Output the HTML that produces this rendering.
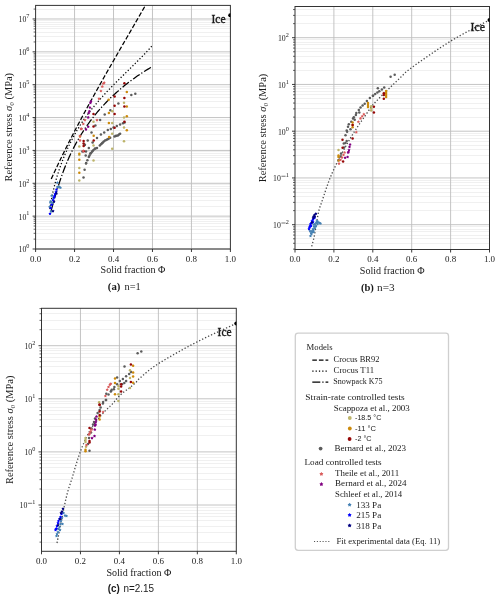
<!DOCTYPE html>
<html><head><meta charset="utf-8"><style>
html,body{margin:0;padding:0;background:#fff;}
svg{display:block;will-change:transform;}
</style></head><body>
<svg width="500" height="598" viewBox="0 0 500 598">
<defs><clipPath id="ca"><rect x="35.6" y="5.4" width="194.80" height="243.60"/></clipPath><clipPath id="cb"><rect x="295.0" y="6.5" width="194.50" height="243.00"/></clipPath><clipPath id="cc"><rect x="41.5" y="308.3" width="194.80" height="243.00"/></clipPath></defs>
<rect x="0" y="0" width="500" height="598" fill="#ffffff"/>
<line x1="35.6" x2="230.4" y1="239.50" y2="239.50" stroke="#f0f0f0" stroke-width="1"/>
<line x1="35.6" x2="230.4" y1="233.50" y2="233.50" stroke="#f0f0f0" stroke-width="1"/>
<line x1="35.6" x2="230.4" y1="229.50" y2="229.50" stroke="#f0f0f0" stroke-width="1"/>
<line x1="35.6" x2="230.4" y1="226.50" y2="226.50" stroke="#f0f0f0" stroke-width="1"/>
<line x1="35.6" x2="230.4" y1="223.50" y2="223.50" stroke="#f0f0f0" stroke-width="1"/>
<line x1="35.6" x2="230.4" y1="221.50" y2="221.50" stroke="#f0f0f0" stroke-width="1"/>
<line x1="35.6" x2="230.4" y1="219.50" y2="219.50" stroke="#f0f0f0" stroke-width="1"/>
<line x1="35.6" x2="230.4" y1="217.50" y2="217.50" stroke="#f0f0f0" stroke-width="1"/>
<line x1="35.6" x2="230.4" y1="206.50" y2="206.50" stroke="#f0f0f0" stroke-width="1"/>
<line x1="35.6" x2="230.4" y1="200.50" y2="200.50" stroke="#f0f0f0" stroke-width="1"/>
<line x1="35.6" x2="230.4" y1="196.50" y2="196.50" stroke="#f0f0f0" stroke-width="1"/>
<line x1="35.6" x2="230.4" y1="193.50" y2="193.50" stroke="#f0f0f0" stroke-width="1"/>
<line x1="35.6" x2="230.4" y1="190.50" y2="190.50" stroke="#f0f0f0" stroke-width="1"/>
<line x1="35.6" x2="230.4" y1="188.50" y2="188.50" stroke="#f0f0f0" stroke-width="1"/>
<line x1="35.6" x2="230.4" y1="186.50" y2="186.50" stroke="#f0f0f0" stroke-width="1"/>
<line x1="35.6" x2="230.4" y1="184.50" y2="184.50" stroke="#f0f0f0" stroke-width="1"/>
<line x1="35.6" x2="230.4" y1="173.50" y2="173.50" stroke="#f0f0f0" stroke-width="1"/>
<line x1="35.6" x2="230.4" y1="167.50" y2="167.50" stroke="#f0f0f0" stroke-width="1"/>
<line x1="35.6" x2="230.4" y1="163.50" y2="163.50" stroke="#f0f0f0" stroke-width="1"/>
<line x1="35.6" x2="230.4" y1="160.50" y2="160.50" stroke="#f0f0f0" stroke-width="1"/>
<line x1="35.6" x2="230.4" y1="157.50" y2="157.50" stroke="#f0f0f0" stroke-width="1"/>
<line x1="35.6" x2="230.4" y1="155.50" y2="155.50" stroke="#f0f0f0" stroke-width="1"/>
<line x1="35.6" x2="230.4" y1="153.50" y2="153.50" stroke="#f0f0f0" stroke-width="1"/>
<line x1="35.6" x2="230.4" y1="151.50" y2="151.50" stroke="#f0f0f0" stroke-width="1"/>
<line x1="35.6" x2="230.4" y1="140.50" y2="140.50" stroke="#f0f0f0" stroke-width="1"/>
<line x1="35.6" x2="230.4" y1="134.50" y2="134.50" stroke="#f0f0f0" stroke-width="1"/>
<line x1="35.6" x2="230.4" y1="130.50" y2="130.50" stroke="#f0f0f0" stroke-width="1"/>
<line x1="35.6" x2="230.4" y1="127.50" y2="127.50" stroke="#f0f0f0" stroke-width="1"/>
<line x1="35.6" x2="230.4" y1="124.50" y2="124.50" stroke="#f0f0f0" stroke-width="1"/>
<line x1="35.6" x2="230.4" y1="122.50" y2="122.50" stroke="#f0f0f0" stroke-width="1"/>
<line x1="35.6" x2="230.4" y1="120.50" y2="120.50" stroke="#f0f0f0" stroke-width="1"/>
<line x1="35.6" x2="230.4" y1="119.50" y2="119.50" stroke="#f0f0f0" stroke-width="1"/>
<line x1="35.6" x2="230.4" y1="107.50" y2="107.50" stroke="#f0f0f0" stroke-width="1"/>
<line x1="35.6" x2="230.4" y1="101.50" y2="101.50" stroke="#f0f0f0" stroke-width="1"/>
<line x1="35.6" x2="230.4" y1="97.50" y2="97.50" stroke="#f0f0f0" stroke-width="1"/>
<line x1="35.6" x2="230.4" y1="94.50" y2="94.50" stroke="#f0f0f0" stroke-width="1"/>
<line x1="35.6" x2="230.4" y1="91.50" y2="91.50" stroke="#f0f0f0" stroke-width="1"/>
<line x1="35.6" x2="230.4" y1="89.50" y2="89.50" stroke="#f0f0f0" stroke-width="1"/>
<line x1="35.6" x2="230.4" y1="87.50" y2="87.50" stroke="#f0f0f0" stroke-width="1"/>
<line x1="35.6" x2="230.4" y1="86.50" y2="86.50" stroke="#f0f0f0" stroke-width="1"/>
<line x1="35.6" x2="230.4" y1="74.50" y2="74.50" stroke="#f0f0f0" stroke-width="1"/>
<line x1="35.6" x2="230.4" y1="69.50" y2="69.50" stroke="#f0f0f0" stroke-width="1"/>
<line x1="35.6" x2="230.4" y1="64.50" y2="64.50" stroke="#f0f0f0" stroke-width="1"/>
<line x1="35.6" x2="230.4" y1="61.50" y2="61.50" stroke="#f0f0f0" stroke-width="1"/>
<line x1="35.6" x2="230.4" y1="59.50" y2="59.50" stroke="#f0f0f0" stroke-width="1"/>
<line x1="35.6" x2="230.4" y1="56.50" y2="56.50" stroke="#f0f0f0" stroke-width="1"/>
<line x1="35.6" x2="230.4" y1="55.50" y2="55.50" stroke="#f0f0f0" stroke-width="1"/>
<line x1="35.6" x2="230.4" y1="53.50" y2="53.50" stroke="#f0f0f0" stroke-width="1"/>
<line x1="35.6" x2="230.4" y1="41.50" y2="41.50" stroke="#f0f0f0" stroke-width="1"/>
<line x1="35.6" x2="230.4" y1="36.50" y2="36.50" stroke="#f0f0f0" stroke-width="1"/>
<line x1="35.6" x2="230.4" y1="32.50" y2="32.50" stroke="#f0f0f0" stroke-width="1"/>
<line x1="35.6" x2="230.4" y1="28.50" y2="28.50" stroke="#f0f0f0" stroke-width="1"/>
<line x1="35.6" x2="230.4" y1="26.50" y2="26.50" stroke="#f0f0f0" stroke-width="1"/>
<line x1="35.6" x2="230.4" y1="24.50" y2="24.50" stroke="#f0f0f0" stroke-width="1"/>
<line x1="35.6" x2="230.4" y1="22.50" y2="22.50" stroke="#f0f0f0" stroke-width="1"/>
<line x1="35.6" x2="230.4" y1="20.50" y2="20.50" stroke="#f0f0f0" stroke-width="1"/>
<line x1="35.6" x2="230.4" y1="9.50" y2="9.50" stroke="#f0f0f0" stroke-width="1"/>
<line x1="35.6" x2="230.4" y1="249.00" y2="249.00" stroke="#bdbdbd" stroke-width="0.9"/>
<line x1="35.6" x2="230.4" y1="216.14" y2="216.14" stroke="#bdbdbd" stroke-width="0.9"/>
<line x1="35.6" x2="230.4" y1="183.28" y2="183.28" stroke="#bdbdbd" stroke-width="0.9"/>
<line x1="35.6" x2="230.4" y1="150.42" y2="150.42" stroke="#bdbdbd" stroke-width="0.9"/>
<line x1="35.6" x2="230.4" y1="117.56" y2="117.56" stroke="#bdbdbd" stroke-width="0.9"/>
<line x1="35.6" x2="230.4" y1="84.70" y2="84.70" stroke="#bdbdbd" stroke-width="0.9"/>
<line x1="35.6" x2="230.4" y1="51.84" y2="51.84" stroke="#bdbdbd" stroke-width="0.9"/>
<line x1="35.6" x2="230.4" y1="18.98" y2="18.98" stroke="#bdbdbd" stroke-width="0.9"/>
<line x1="74.56" x2="74.56" y1="5.4" y2="249.0" stroke="#bdbdbd" stroke-width="0.9"/>
<line x1="113.52" x2="113.52" y1="5.4" y2="249.0" stroke="#bdbdbd" stroke-width="0.9"/>
<line x1="152.48" x2="152.48" y1="5.4" y2="249.0" stroke="#bdbdbd" stroke-width="0.9"/>
<line x1="191.44" x2="191.44" y1="5.4" y2="249.0" stroke="#bdbdbd" stroke-width="0.9"/>
<line x1="295.0" x2="489.5" y1="243.50" y2="243.50" stroke="#f0f0f0" stroke-width="1"/>
<line x1="295.0" x2="489.5" y1="238.50" y2="238.50" stroke="#f0f0f0" stroke-width="1"/>
<line x1="295.0" x2="489.5" y1="235.50" y2="235.50" stroke="#f0f0f0" stroke-width="1"/>
<line x1="295.0" x2="489.5" y1="231.50" y2="231.50" stroke="#f0f0f0" stroke-width="1"/>
<line x1="295.0" x2="489.5" y1="229.50" y2="229.50" stroke="#f0f0f0" stroke-width="1"/>
<line x1="295.0" x2="489.5" y1="226.50" y2="226.50" stroke="#f0f0f0" stroke-width="1"/>
<line x1="295.0" x2="489.5" y1="210.50" y2="210.50" stroke="#f0f0f0" stroke-width="1"/>
<line x1="295.0" x2="489.5" y1="202.50" y2="202.50" stroke="#f0f0f0" stroke-width="1"/>
<line x1="295.0" x2="489.5" y1="196.50" y2="196.50" stroke="#f0f0f0" stroke-width="1"/>
<line x1="295.0" x2="489.5" y1="192.50" y2="192.50" stroke="#f0f0f0" stroke-width="1"/>
<line x1="295.0" x2="489.5" y1="188.50" y2="188.50" stroke="#f0f0f0" stroke-width="1"/>
<line x1="295.0" x2="489.5" y1="185.50" y2="185.50" stroke="#f0f0f0" stroke-width="1"/>
<line x1="295.0" x2="489.5" y1="182.50" y2="182.50" stroke="#f0f0f0" stroke-width="1"/>
<line x1="295.0" x2="489.5" y1="180.50" y2="180.50" stroke="#f0f0f0" stroke-width="1"/>
<line x1="295.0" x2="489.5" y1="163.50" y2="163.50" stroke="#f0f0f0" stroke-width="1"/>
<line x1="295.0" x2="489.5" y1="155.50" y2="155.50" stroke="#f0f0f0" stroke-width="1"/>
<line x1="295.0" x2="489.5" y1="149.50" y2="149.50" stroke="#f0f0f0" stroke-width="1"/>
<line x1="295.0" x2="489.5" y1="145.50" y2="145.50" stroke="#f0f0f0" stroke-width="1"/>
<line x1="295.0" x2="489.5" y1="141.50" y2="141.50" stroke="#f0f0f0" stroke-width="1"/>
<line x1="295.0" x2="489.5" y1="138.50" y2="138.50" stroke="#f0f0f0" stroke-width="1"/>
<line x1="295.0" x2="489.5" y1="135.50" y2="135.50" stroke="#f0f0f0" stroke-width="1"/>
<line x1="295.0" x2="489.5" y1="133.50" y2="133.50" stroke="#f0f0f0" stroke-width="1"/>
<line x1="295.0" x2="489.5" y1="117.50" y2="117.50" stroke="#f0f0f0" stroke-width="1"/>
<line x1="295.0" x2="489.5" y1="108.50" y2="108.50" stroke="#f0f0f0" stroke-width="1"/>
<line x1="295.0" x2="489.5" y1="103.50" y2="103.50" stroke="#f0f0f0" stroke-width="1"/>
<line x1="295.0" x2="489.5" y1="98.50" y2="98.50" stroke="#f0f0f0" stroke-width="1"/>
<line x1="295.0" x2="489.5" y1="94.50" y2="94.50" stroke="#f0f0f0" stroke-width="1"/>
<line x1="295.0" x2="489.5" y1="91.50" y2="91.50" stroke="#f0f0f0" stroke-width="1"/>
<line x1="295.0" x2="489.5" y1="88.50" y2="88.50" stroke="#f0f0f0" stroke-width="1"/>
<line x1="295.0" x2="489.5" y1="86.50" y2="86.50" stroke="#f0f0f0" stroke-width="1"/>
<line x1="295.0" x2="489.5" y1="70.50" y2="70.50" stroke="#f0f0f0" stroke-width="1"/>
<line x1="295.0" x2="489.5" y1="62.50" y2="62.50" stroke="#f0f0f0" stroke-width="1"/>
<line x1="295.0" x2="489.5" y1="56.50" y2="56.50" stroke="#f0f0f0" stroke-width="1"/>
<line x1="295.0" x2="489.5" y1="51.50" y2="51.50" stroke="#f0f0f0" stroke-width="1"/>
<line x1="295.0" x2="489.5" y1="48.50" y2="48.50" stroke="#f0f0f0" stroke-width="1"/>
<line x1="295.0" x2="489.5" y1="44.50" y2="44.50" stroke="#f0f0f0" stroke-width="1"/>
<line x1="295.0" x2="489.5" y1="42.50" y2="42.50" stroke="#f0f0f0" stroke-width="1"/>
<line x1="295.0" x2="489.5" y1="39.50" y2="39.50" stroke="#f0f0f0" stroke-width="1"/>
<line x1="295.0" x2="489.5" y1="23.50" y2="23.50" stroke="#f0f0f0" stroke-width="1"/>
<line x1="295.0" x2="489.5" y1="15.50" y2="15.50" stroke="#f0f0f0" stroke-width="1"/>
<line x1="295.0" x2="489.5" y1="9.50" y2="9.50" stroke="#f0f0f0" stroke-width="1"/>
<line x1="295.0" x2="489.5" y1="224.70" y2="224.70" stroke="#bdbdbd" stroke-width="0.9"/>
<line x1="295.0" x2="489.5" y1="177.95" y2="177.95" stroke="#bdbdbd" stroke-width="0.9"/>
<line x1="295.0" x2="489.5" y1="131.20" y2="131.20" stroke="#bdbdbd" stroke-width="0.9"/>
<line x1="295.0" x2="489.5" y1="84.45" y2="84.45" stroke="#bdbdbd" stroke-width="0.9"/>
<line x1="295.0" x2="489.5" y1="37.70" y2="37.70" stroke="#bdbdbd" stroke-width="0.9"/>
<line x1="333.90" x2="333.90" y1="6.5" y2="249.5" stroke="#bdbdbd" stroke-width="0.9"/>
<line x1="372.80" x2="372.80" y1="6.5" y2="249.5" stroke="#bdbdbd" stroke-width="0.9"/>
<line x1="411.70" x2="411.70" y1="6.5" y2="249.5" stroke="#bdbdbd" stroke-width="0.9"/>
<line x1="450.60" x2="450.60" y1="6.5" y2="249.5" stroke="#bdbdbd" stroke-width="0.9"/>
<line x1="41.5" x2="236.3" y1="542.50" y2="542.50" stroke="#f0f0f0" stroke-width="1"/>
<line x1="41.5" x2="236.3" y1="532.50" y2="532.50" stroke="#f0f0f0" stroke-width="1"/>
<line x1="41.5" x2="236.3" y1="526.50" y2="526.50" stroke="#f0f0f0" stroke-width="1"/>
<line x1="41.5" x2="236.3" y1="520.50" y2="520.50" stroke="#f0f0f0" stroke-width="1"/>
<line x1="41.5" x2="236.3" y1="516.50" y2="516.50" stroke="#f0f0f0" stroke-width="1"/>
<line x1="41.5" x2="236.3" y1="513.50" y2="513.50" stroke="#f0f0f0" stroke-width="1"/>
<line x1="41.5" x2="236.3" y1="510.50" y2="510.50" stroke="#f0f0f0" stroke-width="1"/>
<line x1="41.5" x2="236.3" y1="507.50" y2="507.50" stroke="#f0f0f0" stroke-width="1"/>
<line x1="41.5" x2="236.3" y1="489.50" y2="489.50" stroke="#f0f0f0" stroke-width="1"/>
<line x1="41.5" x2="236.3" y1="479.50" y2="479.50" stroke="#f0f0f0" stroke-width="1"/>
<line x1="41.5" x2="236.3" y1="473.50" y2="473.50" stroke="#f0f0f0" stroke-width="1"/>
<line x1="41.5" x2="236.3" y1="467.50" y2="467.50" stroke="#f0f0f0" stroke-width="1"/>
<line x1="41.5" x2="236.3" y1="463.50" y2="463.50" stroke="#f0f0f0" stroke-width="1"/>
<line x1="41.5" x2="236.3" y1="460.50" y2="460.50" stroke="#f0f0f0" stroke-width="1"/>
<line x1="41.5" x2="236.3" y1="457.50" y2="457.50" stroke="#f0f0f0" stroke-width="1"/>
<line x1="41.5" x2="236.3" y1="454.50" y2="454.50" stroke="#f0f0f0" stroke-width="1"/>
<line x1="41.5" x2="236.3" y1="435.50" y2="435.50" stroke="#f0f0f0" stroke-width="1"/>
<line x1="41.5" x2="236.3" y1="426.50" y2="426.50" stroke="#f0f0f0" stroke-width="1"/>
<line x1="41.5" x2="236.3" y1="419.50" y2="419.50" stroke="#f0f0f0" stroke-width="1"/>
<line x1="41.5" x2="236.3" y1="414.50" y2="414.50" stroke="#f0f0f0" stroke-width="1"/>
<line x1="41.5" x2="236.3" y1="410.50" y2="410.50" stroke="#f0f0f0" stroke-width="1"/>
<line x1="41.5" x2="236.3" y1="407.50" y2="407.50" stroke="#f0f0f0" stroke-width="1"/>
<line x1="41.5" x2="236.3" y1="403.50" y2="403.50" stroke="#f0f0f0" stroke-width="1"/>
<line x1="41.5" x2="236.3" y1="401.50" y2="401.50" stroke="#f0f0f0" stroke-width="1"/>
<line x1="41.5" x2="236.3" y1="382.50" y2="382.50" stroke="#f0f0f0" stroke-width="1"/>
<line x1="41.5" x2="236.3" y1="373.50" y2="373.50" stroke="#f0f0f0" stroke-width="1"/>
<line x1="41.5" x2="236.3" y1="366.50" y2="366.50" stroke="#f0f0f0" stroke-width="1"/>
<line x1="41.5" x2="236.3" y1="361.50" y2="361.50" stroke="#f0f0f0" stroke-width="1"/>
<line x1="41.5" x2="236.3" y1="357.50" y2="357.50" stroke="#f0f0f0" stroke-width="1"/>
<line x1="41.5" x2="236.3" y1="353.50" y2="353.50" stroke="#f0f0f0" stroke-width="1"/>
<line x1="41.5" x2="236.3" y1="350.50" y2="350.50" stroke="#f0f0f0" stroke-width="1"/>
<line x1="41.5" x2="236.3" y1="348.50" y2="348.50" stroke="#f0f0f0" stroke-width="1"/>
<line x1="41.5" x2="236.3" y1="329.50" y2="329.50" stroke="#f0f0f0" stroke-width="1"/>
<line x1="41.5" x2="236.3" y1="320.50" y2="320.50" stroke="#f0f0f0" stroke-width="1"/>
<line x1="41.5" x2="236.3" y1="313.50" y2="313.50" stroke="#f0f0f0" stroke-width="1"/>
<line x1="41.5" x2="236.3" y1="505.00" y2="505.00" stroke="#bdbdbd" stroke-width="0.9"/>
<line x1="41.5" x2="236.3" y1="451.90" y2="451.90" stroke="#bdbdbd" stroke-width="0.9"/>
<line x1="41.5" x2="236.3" y1="398.80" y2="398.80" stroke="#bdbdbd" stroke-width="0.9"/>
<line x1="41.5" x2="236.3" y1="345.70" y2="345.70" stroke="#bdbdbd" stroke-width="0.9"/>
<line x1="80.46" x2="80.46" y1="308.3" y2="551.3" stroke="#bdbdbd" stroke-width="0.9"/>
<line x1="119.42" x2="119.42" y1="308.3" y2="551.3" stroke="#bdbdbd" stroke-width="0.9"/>
<line x1="158.38" x2="158.38" y1="308.3" y2="551.3" stroke="#bdbdbd" stroke-width="0.9"/>
<line x1="197.34" x2="197.34" y1="308.3" y2="551.3" stroke="#bdbdbd" stroke-width="0.9"/>
<g clip-path="url(#ca)" fill="none" stroke="#000" stroke-width="1.25">
<path d="M51.24,179.00 L51.75,177.88 L52.26,176.76 L52.78,175.64 L53.29,174.52 L53.81,173.40 L54.33,172.28 L54.85,171.16 L55.37,170.04 L55.89,168.92 L56.42,167.79 L56.95,166.67 L57.48,165.55 L58.01,164.43 L58.55,163.31 L59.08,162.19 L59.62,161.07 L60.16,159.95 L60.70,158.83 L61.24,157.71 L61.79,156.59 L62.34,155.47 L62.89,154.35 L63.44,153.23 L63.99,152.11 L64.54,150.99 L65.10,149.87 L65.66,148.75 L66.22,147.63 L66.78,146.51 L67.34,145.38 L67.90,144.26 L68.47,143.14 L69.04,142.02 L69.61,140.90 L70.18,139.78 L70.75,138.66 L71.33,137.54 L71.90,136.42 L72.48,135.30 L73.06,134.18 L73.64,133.06 L74.22,131.94 L74.80,130.82 L75.38,129.70 L75.97,128.58 L76.56,127.46 L77.15,126.34 L77.74,125.22 L78.33,124.10 L78.92,122.97 L79.52,121.85 L80.11,120.73 L80.71,119.61 L81.30,118.49 L81.90,117.37 L82.50,116.25 L83.10,115.13 L83.71,114.01 L84.31,112.89 L84.92,111.77 L85.53,110.65 L86.13,109.53 L86.74,108.41 L87.35,107.29 L87.96,106.17 L88.57,105.05 L89.19,103.93 L89.80,102.81 L90.42,101.69 L91.03,100.56 L91.65,99.44 L92.27,98.32 L92.89,97.20 L93.51,96.08 L94.13,94.96 L94.75,93.84 L95.37,92.72 L96.00,91.60 L96.62,90.48 L97.25,89.36 L97.88,88.24 L98.50,87.12 L99.13,86.00 L99.76,84.88 L100.39,83.76 L101.02,82.63 L101.65,81.51 L102.28,80.39 L102.91,79.27 L103.55,78.15 L104.18,77.03 L104.82,75.91 L105.46,74.79 L106.09,73.67 L106.73,72.55 L107.37,71.43 L108.01,70.31 L108.64,69.19 L109.28,68.07 L109.92,66.95 L110.56,65.83 L111.20,64.71 L111.85,63.59 L112.49,62.47 L113.13,61.35 L113.77,60.22 L114.42,59.10 L115.06,57.98 L115.70,56.86 L116.35,55.74 L116.99,54.62 L117.64,53.50 L118.28,52.38 L118.93,51.26 L119.57,50.14 L120.22,49.02 L120.87,47.90 L121.51,46.78 L122.16,45.66 L122.81,44.54 L123.46,43.42 L124.11,42.30 L124.75,41.18 L125.40,40.06 L126.05,38.94 L126.69,37.81 L127.34,36.69 L127.99,35.57 L128.64,34.45 L129.29,33.33 L129.94,32.21 L130.59,31.09 L131.24,29.97 L131.89,28.85 L132.53,27.73 L133.18,26.61 L133.83,25.49 L134.48,24.37 L135.13,23.25 L135.78,22.13 L136.43,21.01 L137.08,19.89 L137.72,18.77 L138.37,17.65 L139.02,16.53 L139.67,15.40 L140.31,14.28 L140.96,13.16 L141.61,12.04 L142.25,10.92 L142.90,9.80 L143.55,8.68 L144.20,7.56 L144.84,6.44 L145.49,5.32 L146.14,4.20" stroke-dasharray="4.6 2.0"/>
<path d="M49.90,209.00 L50.06,207.95 L50.21,206.91 L50.37,205.86 L50.54,204.81 L50.71,203.76 L50.89,202.72 L51.07,201.67 L51.26,200.62 L51.45,199.57 L51.65,198.53 L51.85,197.48 L52.06,196.43 L52.27,195.38 L52.49,194.34 L52.71,193.29 L52.94,192.24 L53.17,191.19 L53.41,190.15 L53.66,189.10 L53.91,188.05 L54.16,187.00 L54.42,185.96 L54.69,184.91 L54.96,183.86 L55.24,182.81 L55.52,181.77 L55.81,180.72 L56.11,179.67 L56.41,178.62 L56.71,177.57 L57.02,176.53 L57.34,175.48 L57.66,174.43 L57.99,173.38 L58.33,172.34 L58.67,171.29 L59.02,170.24 L59.37,169.19 L59.73,168.15 L60.09,167.10 L60.46,166.05 L60.84,165.00 L61.22,163.96 L61.61,162.91 L62.01,161.86 L62.41,160.81 L62.82,159.77 L63.23,158.72 L63.65,157.67 L64.08,156.62 L64.51,155.58 L64.95,154.53 L65.40,153.48 L65.85,152.44 L66.30,151.39 L66.77,150.34 L67.24,149.29 L67.72,148.25 L68.21,147.20 L68.70,146.15 L69.20,145.10 L69.71,144.06 L70.22,143.01 L70.74,141.96 L71.27,140.91 L71.80,139.87 L72.34,138.82 L72.89,137.77 L73.45,136.72 L74.01,135.68 L74.59,134.63 L75.17,133.58 L75.76,132.53 L76.37,131.48 L76.98,130.44 L77.60,129.39 L78.23,128.34 L78.87,127.30 L79.52,126.26 L80.18,125.21 L80.85,124.16 L81.53,123.12 L82.23,122.07 L82.93,121.02 L83.65,119.97 L84.38,118.92 L85.12,117.88 L85.87,116.83 L86.63,115.78 L87.41,114.73 L88.19,113.69 L88.99,112.64 L89.80,111.59 L90.61,110.54 L91.44,109.50 L92.28,108.45 L93.13,107.40 L93.99,106.36 L94.85,105.31 L95.73,104.26 L96.62,103.21 L97.52,102.16 L98.42,101.12 L99.34,100.07 L100.26,99.02 L101.20,97.97 L102.14,96.93 L103.09,95.88 L104.05,94.83 L105.01,93.78 L105.98,92.74 L106.96,91.69 L107.95,90.64 L108.94,89.59 L109.95,88.55 L110.96,87.50 L111.98,86.45 L113.01,85.41 L114.04,84.36 L115.08,83.31 L116.12,82.26 L117.17,81.22 L118.22,80.17 L119.28,79.12 L120.34,78.07 L121.40,77.03 L122.47,75.98 L123.54,74.93 L124.61,73.88 L125.68,72.84 L126.76,71.79 L127.83,70.74 L128.90,69.69 L129.97,68.64 L131.04,67.60 L132.11,66.55 L133.17,65.50 L134.24,64.45 L135.30,63.41 L136.35,62.36 L137.40,61.31 L138.45,60.27 L139.49,59.22 L140.52,58.17 L141.55,57.12 L142.57,56.07 L143.58,55.03 L144.59,53.98 L145.59,52.93 L146.57,51.88 L147.55,50.84 L148.52,49.79 L149.47,48.74 L150.41,47.70 L151.34,46.65 L152.28,45.60" stroke-dasharray="1.25 2.06"/>
<path d="M51.06,211.00 L51.31,210.08 L51.56,209.15 L51.82,208.23 L52.07,207.30 L52.33,206.37 L52.58,205.45 L52.84,204.52 L53.10,203.59 L53.36,202.66 L53.62,201.74 L53.89,200.81 L54.15,199.89 L54.42,198.96 L54.68,198.04 L54.95,197.11 L55.22,196.19 L55.49,195.27 L55.76,194.34 L56.03,193.42 L56.31,192.49 L56.59,191.56 L56.87,190.64 L57.15,189.71 L57.44,188.78 L57.73,187.85 L58.02,186.93 L58.31,186.00 L58.60,185.08 L58.90,184.16 L59.20,183.23 L59.50,182.30 L59.81,181.38 L60.12,180.46 L60.43,179.53 L60.74,178.61 L61.06,177.68 L61.38,176.75 L61.71,175.82 L62.04,174.90 L62.37,173.97 L62.71,173.04 L63.05,172.12 L63.40,171.19 L63.75,170.27 L64.10,169.34 L64.46,168.42 L64.82,167.49 L65.18,166.57 L65.55,165.65 L65.93,164.72 L66.31,163.80 L66.69,162.87 L67.08,161.94 L67.47,161.02 L67.87,160.09 L68.27,159.16 L68.68,158.23 L69.09,157.31 L69.51,156.38 L69.94,155.46 L70.37,154.53 L70.80,153.61 L71.24,152.68 L71.69,151.76 L72.14,150.84 L72.60,149.91 L73.06,148.99 L73.53,148.06 L74.01,147.13 L74.49,146.21 L74.97,145.28 L75.47,144.35 L75.97,143.42 L76.48,142.50 L77.00,141.57 L77.52,140.65 L78.05,139.72 L78.58,138.80 L79.12,137.87 L79.67,136.95 L80.23,136.03 L80.79,135.10 L81.36,134.18 L81.94,133.25 L82.53,132.32 L83.12,131.40 L83.72,130.47 L84.33,129.54 L84.95,128.61 L85.57,127.69 L86.20,126.76 L86.84,125.84 L87.49,124.92 L88.14,123.99 L88.81,123.06 L89.48,122.14 L90.16,121.22 L90.86,120.29 L91.56,119.37 L92.27,118.44 L92.99,117.51 L93.71,116.58 L94.45,115.66 L95.19,114.73 L95.94,113.80 L96.71,112.88 L97.48,111.95 L98.27,111.03 L99.07,110.11 L99.87,109.18 L100.69,108.26 L101.52,107.33 L102.36,106.41 L103.21,105.48 L104.08,104.56 L104.95,103.63 L105.83,102.70 L106.73,101.78 L107.64,100.85 L108.56,99.92 L109.50,98.99 L110.44,98.07 L111.41,97.14 L112.38,96.22 L113.37,95.30 L114.37,94.37 L115.38,93.44 L116.41,92.52 L117.45,91.60 L118.51,90.67 L119.58,89.75 L120.66,88.82 L121.76,87.89 L122.87,86.97 L124.00,86.04 L125.15,85.11 L126.32,84.18 L127.50,83.26 L128.70,82.33 L129.92,81.41 L131.15,80.48 L132.41,79.56 L133.68,78.63 L134.97,77.71 L136.29,76.79 L137.62,75.86 L138.98,74.94 L140.36,74.01 L141.76,73.08 L143.19,72.16 L144.64,71.23 L146.11,70.30 L147.62,69.37 L149.15,68.45 L150.70,67.52 L152.24,66.60" stroke-dasharray="8 2 1.25 2"/>
</g>
<g clip-path="url(#cb)" fill="none" stroke="#484848" stroke-width="1.3" stroke-dasharray="1.3 2.0">
<path d="M311.70,246.30 L312.34,243.91 L312.97,241.71 L313.63,239.13 L314.40,235.60 L315.32,230.47 L316.36,224.20 L317.42,217.93 L318.40,212.80 L319.10,209.72 L319.63,207.88 L320.37,205.83 L321.70,202.10 L323.69,196.10 L326.16,188.68 L329.07,180.54 L332.40,172.40 L336.33,164.08 L340.82,155.33 L345.49,146.71 L350.00,138.80 L354.45,131.55 L358.96,124.71 L363.19,118.57 L366.80,113.40 L369.17,109.86 L370.67,107.61 L372.40,105.41 L375.50,102.00 L380.81,96.57 L387.56,89.94 L394.40,83.35 L400.00,78.00 L403.20,74.80 L404.98,72.91 L407.22,70.94 L411.80,67.50 L419.69,61.85 L429.74,54.85 L440.61,47.53 L451.00,40.90 L460.66,35.27 L470.25,30.09 L479.82,25.09 L489.40,20.00"/>
</g>
<g clip-path="url(#cc)" fill="none" stroke="#484848" stroke-width="1.3" stroke-dasharray="1.3 2.0">
<path d="M57.00,543.00 L59.32,531.30 L61.69,519.23 L63.96,507.91 L66.00,498.50 L67.66,491.90 L69.06,487.30 L70.42,483.27 L72.00,478.40 L73.83,472.20 L75.80,465.47 L77.89,458.68 L80.10,452.30 L82.42,446.35 L84.85,440.62 L87.41,435.21 L90.10,430.20 L93.03,425.61 L96.15,421.39 L99.27,417.56 L102.20,414.10 L104.89,411.15 L107.46,408.66 L109.89,406.39 L112.20,404.10 L114.31,401.71 L116.26,399.36 L118.17,397.11 L120.20,395.00 L122.45,393.08 L124.81,391.31 L127.15,389.63 L129.30,388.00 L131.28,386.38 L133.14,384.81 L134.83,383.34 L136.30,382.00 L137.11,381.10 L137.44,380.53 L138.12,379.68 L140.00,378.00 L143.08,375.31 L146.98,371.93 L151.99,367.98 L158.40,363.60 L166.76,358.54 L176.75,352.83 L187.37,347.00 L197.60,341.60 L207.26,336.82 L216.85,332.35 L226.42,328.01 L236.00,323.60"/>
</g>
<g clip-path="url(#ca)">
<circle cx="131.30" cy="95.10" r="1.25" fill="#5c5c5c"/>
<circle cx="135.30" cy="93.70" r="1.25" fill="#5c5c5c"/>
<circle cx="118.40" cy="103.50" r="1.25" fill="#5c5c5c"/>
<circle cx="110.40" cy="110.20" r="1.25" fill="#5c5c5c"/>
<circle cx="104.70" cy="114.60" r="1.25" fill="#5c5c5c"/>
<circle cx="100.10" cy="120.10" r="1.25" fill="#5c5c5c"/>
<circle cx="95.40" cy="125.60" r="1.25" fill="#5c5c5c"/>
<circle cx="91.50" cy="132.50" r="1.25" fill="#5c5c5c"/>
<circle cx="87.70" cy="140.40" r="1.25" fill="#5c5c5c"/>
<circle cx="84.90" cy="144.80" r="1.25" fill="#5c5c5c"/>
<circle cx="92.60" cy="142.60" r="1.25" fill="#5c5c5c"/>
<circle cx="88.80" cy="148.10" r="1.25" fill="#5c5c5c"/>
<circle cx="86.00" cy="151.40" r="1.25" fill="#5c5c5c"/>
<circle cx="82.40" cy="151.60" r="1.25" fill="#5c5c5c"/>
<circle cx="85.70" cy="155.40" r="1.25" fill="#5c5c5c"/>
<circle cx="86.20" cy="163.10" r="1.25" fill="#5c5c5c"/>
<circle cx="84.60" cy="169.70" r="1.25" fill="#5c5c5c"/>
<circle cx="83.50" cy="177.40" r="1.25" fill="#5c5c5c"/>
<circle cx="84.60" cy="145.00" r="1.25" fill="#5c5c5c"/>
<circle cx="97.00" cy="138.00" r="1.25" fill="#5c5c5c"/>
<circle cx="100.90" cy="134.40" r="1.25" fill="#5c5c5c"/>
<circle cx="104.20" cy="132.50" r="1.25" fill="#5c5c5c"/>
<circle cx="107.80" cy="130.00" r="1.25" fill="#5c5c5c"/>
<circle cx="110.80" cy="128.90" r="1.25" fill="#5c5c5c"/>
<circle cx="113.50" cy="127.40" r="1.25" fill="#5c5c5c"/>
<circle cx="116.80" cy="126.10" r="1.25" fill="#5c5c5c"/>
<circle cx="120.10" cy="124.50" r="1.25" fill="#5c5c5c"/>
<circle cx="123.00" cy="123.20" r="1.25" fill="#5c5c5c"/>
<circle cx="124.60" cy="122.50" r="1.25" fill="#5c5c5c"/>
<circle cx="86.00" cy="163.50" r="1.25" fill="#5c5c5c"/>
<circle cx="87.40" cy="160.20" r="1.25" fill="#5c5c5c"/>
<circle cx="88.80" cy="156.90" r="1.25" fill="#5c5c5c"/>
<circle cx="90.40" cy="153.60" r="1.25" fill="#5c5c5c"/>
<circle cx="92.60" cy="150.90" r="1.25" fill="#5c5c5c"/>
<circle cx="94.80" cy="148.70" r="1.25" fill="#5c5c5c"/>
<circle cx="97.00" cy="148.10" r="1.25" fill="#5c5c5c"/>
<circle cx="99.80" cy="145.40" r="1.25" fill="#5c5c5c"/>
<circle cx="102.00" cy="143.20" r="1.25" fill="#5c5c5c"/>
<circle cx="103.80" cy="141.50" r="1.25" fill="#5c5c5c"/>
<circle cx="106.40" cy="139.90" r="1.25" fill="#5c5c5c"/>
<circle cx="108.60" cy="138.80" r="1.25" fill="#5c5c5c"/>
<circle cx="110.20" cy="137.70" r="1.25" fill="#5c5c5c"/>
<circle cx="115.70" cy="136.00" r="1.25" fill="#5c5c5c"/>
<circle cx="117.90" cy="135.50" r="1.25" fill="#5c5c5c"/>
<circle cx="120.10" cy="133.80" r="1.25" fill="#5c5c5c"/>
<circle cx="89.50" cy="155.50" r="1.25" fill="#5c5c5c"/>
<circle cx="90.80" cy="153.20" r="1.25" fill="#5c5c5c"/>
<circle cx="92.00" cy="151.70" r="1.25" fill="#5c5c5c"/>
<circle cx="93.50" cy="150.00" r="1.25" fill="#5c5c5c"/>
<circle cx="95.50" cy="148.50" r="1.25" fill="#5c5c5c"/>
<circle cx="101.00" cy="144.30" r="1.25" fill="#5c5c5c"/>
<circle cx="102.80" cy="142.50" r="1.25" fill="#5c5c5c"/>
<circle cx="105.00" cy="140.60" r="1.25" fill="#5c5c5c"/>
<circle cx="107.50" cy="139.30" r="1.25" fill="#5c5c5c"/>
<circle cx="116.50" cy="135.80" r="1.25" fill="#5c5c5c"/>
<circle cx="119.00" cy="134.60" r="1.25" fill="#5c5c5c"/>
<circle cx="114.50" cy="136.50" r="1.25" fill="#5c5c5c"/>
<circle cx="124.00" cy="102.70" r="1.25" fill="#bdb46a"/>
<circle cx="112.30" cy="111.30" r="1.25" fill="#bdb46a"/>
<circle cx="124.00" cy="117.50" r="1.25" fill="#bdb46a"/>
<circle cx="93.50" cy="121.80" r="1.25" fill="#bdb46a"/>
<circle cx="112.20" cy="122.90" r="1.25" fill="#bdb46a"/>
<circle cx="124.00" cy="127.40" r="1.25" fill="#bdb46a"/>
<circle cx="112.20" cy="133.80" r="1.25" fill="#bdb46a"/>
<circle cx="124.00" cy="141.30" r="1.25" fill="#bdb46a"/>
<circle cx="112.20" cy="148.70" r="1.25" fill="#bdb46a"/>
<circle cx="79.30" cy="146.50" r="1.25" fill="#bdb46a"/>
<circle cx="93.50" cy="145.40" r="1.25" fill="#bdb46a"/>
<circle cx="79.30" cy="155.10" r="1.25" fill="#bdb46a"/>
<circle cx="93.50" cy="160.60" r="1.25" fill="#bdb46a"/>
<circle cx="79.30" cy="167.90" r="1.25" fill="#bdb46a"/>
<circle cx="79.30" cy="180.60" r="1.25" fill="#bdb46a"/>
<circle cx="126.80" cy="92.10" r="1.25" fill="#cc8a0c"/>
<circle cx="126.80" cy="106.40" r="1.25" fill="#cc8a0c"/>
<circle cx="108.60" cy="99.80" r="1.25" fill="#cc8a0c"/>
<circle cx="108.90" cy="113.00" r="1.25" fill="#cc8a0c"/>
<circle cx="126.80" cy="116.20" r="1.25" fill="#cc8a0c"/>
<circle cx="108.90" cy="122.90" r="1.25" fill="#cc8a0c"/>
<circle cx="126.80" cy="130.30" r="1.25" fill="#cc8a0c"/>
<circle cx="109.10" cy="137.10" r="1.25" fill="#cc8a0c"/>
<circle cx="80.00" cy="136.60" r="1.25" fill="#cc8a0c"/>
<circle cx="93.70" cy="135.80" r="1.25" fill="#cc8a0c"/>
<circle cx="79.30" cy="153.80" r="1.25" fill="#cc8a0c"/>
<circle cx="79.30" cy="159.80" r="1.25" fill="#cc8a0c"/>
<circle cx="79.30" cy="172.70" r="1.25" fill="#cc8a0c"/>
<circle cx="124.40" cy="83.30" r="1.25" fill="#960808"/>
<circle cx="124.40" cy="98.00" r="1.25" fill="#960808"/>
<circle cx="114.60" cy="96.50" r="1.25" fill="#960808"/>
<circle cx="114.60" cy="105.80" r="1.25" fill="#960808"/>
<circle cx="124.40" cy="106.40" r="1.25" fill="#960808"/>
<circle cx="114.60" cy="114.00" r="1.25" fill="#960808"/>
<circle cx="93.50" cy="114.00" r="1.25" fill="#960808"/>
<circle cx="93.50" cy="126.60" r="1.25" fill="#960808"/>
<circle cx="124.40" cy="121.80" r="1.25" fill="#960808"/>
<circle cx="114.60" cy="127.80" r="1.25" fill="#960808"/>
<circle cx="93.70" cy="140.40" r="1.25" fill="#960808"/>
<circle cx="83.60" cy="141.00" r="1.25" fill="#960808"/>
<circle cx="83.60" cy="143.50" r="1.25" fill="#960808"/>
<circle cx="83.60" cy="146.00" r="1.25" fill="#960808"/>
<circle cx="83.80" cy="151.20" r="1.25" fill="#960808"/>
<path d="M104.20,81.08 L104.77,81.91 L105.75,82.20 L105.13,83.00 L105.16,84.01 L104.20,83.67 L103.24,84.01 L103.27,83.00 L102.65,82.20 L103.63,81.91Z" fill="#d95c5c"/>
<path d="M103.40,81.97 L103.97,82.81 L104.95,83.10 L104.33,83.90 L104.36,84.91 L103.40,84.57 L102.44,84.91 L102.47,83.90 L101.85,83.10 L102.83,82.81Z" fill="#d95c5c"/>
<path d="M102.30,84.97 L102.87,85.81 L103.85,86.10 L103.23,86.90 L103.26,87.91 L102.30,87.57 L101.34,87.91 L101.37,86.90 L100.75,86.10 L101.73,85.81Z" fill="#d95c5c"/>
<path d="M100.90,89.38 L101.47,90.21 L102.45,90.50 L101.83,91.30 L101.86,92.31 L100.90,91.97 L99.94,92.31 L99.97,91.30 L99.35,90.50 L100.33,90.21Z" fill="#d95c5c"/>
<path d="M99.00,97.08 L99.57,97.91 L100.55,98.20 L99.93,99.00 L99.96,100.01 L99.00,99.67 L98.04,100.01 L98.07,99.00 L97.45,98.20 L98.43,97.91Z" fill="#d95c5c"/>
<path d="M97.00,118.47 L97.57,119.31 L98.55,119.60 L97.93,120.40 L97.96,121.41 L97.00,121.07 L96.04,121.41 L96.07,120.40 L95.45,119.60 L96.43,119.31Z" fill="#d95c5c"/>
<path d="M84.90,118.47 L85.47,119.31 L86.45,119.60 L85.83,120.40 L85.86,121.41 L84.90,121.07 L83.94,121.41 L83.97,120.40 L83.35,119.60 L84.33,119.31Z" fill="#d95c5c"/>
<path d="M83.30,122.38 L83.87,123.21 L84.85,123.50 L84.23,124.30 L84.26,125.31 L83.30,124.97 L82.34,125.31 L82.37,124.30 L81.75,123.50 L82.73,123.21Z" fill="#d95c5c"/>
<path d="M81.60,127.28 L82.17,128.11 L83.15,128.40 L82.53,129.20 L82.56,130.21 L81.60,129.88 L80.64,130.21 L80.67,129.20 L80.05,128.40 L81.03,128.11Z" fill="#d95c5c"/>
<path d="M81.00,127.28 L81.57,128.11 L82.55,128.40 L81.93,129.20 L81.96,130.21 L81.00,129.88 L80.04,130.21 L80.07,129.20 L79.45,128.40 L80.43,128.11Z" fill="#d95c5c"/>
<path d="M80.00,134.38 L80.57,135.21 L81.55,135.50 L80.93,136.30 L80.96,137.31 L80.00,136.97 L79.04,137.31 L79.07,136.30 L78.45,135.50 L79.43,135.21Z" fill="#d95c5c"/>
<path d="M80.00,138.78 L80.57,139.61 L81.55,139.90 L80.93,140.70 L80.96,141.71 L80.00,141.38 L79.04,141.71 L79.07,140.70 L78.45,139.90 L79.43,139.61Z" fill="#d95c5c"/>
<path d="M83.30,149.28 L83.87,150.11 L84.85,150.40 L84.23,151.20 L84.26,152.21 L83.30,151.88 L82.34,152.21 L82.37,151.20 L81.75,150.40 L82.73,150.11Z" fill="#d95c5c"/>
<path d="M91.00,99.78 L91.57,100.61 L92.55,100.90 L91.93,101.70 L91.96,102.71 L91.00,102.38 L90.04,102.71 L90.07,101.70 L89.45,100.90 L90.43,100.61Z" fill="#800080"/>
<path d="M90.40,101.38 L90.97,102.21 L91.95,102.50 L91.33,103.30 L91.36,104.31 L90.40,103.97 L89.44,104.31 L89.47,103.30 L88.85,102.50 L89.83,102.21Z" fill="#800080"/>
<path d="M89.90,105.88 L90.47,106.71 L91.45,107.00 L90.83,107.80 L90.86,108.81 L89.90,108.47 L88.94,108.81 L88.97,107.80 L88.35,107.00 L89.33,106.71Z" fill="#800080"/>
<path d="M89.30,109.67 L89.87,110.51 L90.85,110.80 L90.23,111.60 L90.26,112.61 L89.30,112.27 L88.34,112.61 L88.37,111.60 L87.75,110.80 L88.73,110.51Z" fill="#800080"/>
<path d="M88.80,111.38 L89.37,112.21 L90.35,112.50 L89.73,113.30 L89.76,114.31 L88.80,113.97 L87.84,114.31 L87.87,113.30 L87.25,112.50 L88.23,112.21Z" fill="#800080"/>
<path d="M88.20,115.78 L88.77,116.61 L89.75,116.90 L89.13,117.70 L89.16,118.71 L88.20,118.38 L87.24,118.71 L87.27,117.70 L86.65,116.90 L87.63,116.61Z" fill="#800080"/>
<path d="M88.20,125.08 L88.77,125.91 L89.75,126.20 L89.13,127.00 L89.16,128.01 L88.20,127.67 L87.24,128.01 L87.27,127.00 L86.65,126.20 L87.63,125.91Z" fill="#800080"/>
<path d="M86.00,127.78 L86.57,128.61 L87.55,128.90 L86.93,129.70 L86.96,130.71 L86.00,130.38 L85.04,130.71 L85.07,129.70 L84.45,128.90 L85.43,128.61Z" fill="#800080"/>
<path d="M57.40,181.07 L57.97,181.91 L58.95,182.20 L58.33,183.00 L58.36,184.01 L57.40,183.67 L56.44,184.01 L56.47,183.00 L55.85,182.20 L56.83,181.91Z" fill="#4682b4"/>
<path d="M59.00,185.07 L59.57,185.91 L60.55,186.20 L59.93,187.00 L59.96,188.01 L59.00,187.67 L58.04,188.01 L58.07,187.00 L57.45,186.20 L58.43,185.91Z" fill="#4682b4"/>
<path d="M60.40,186.07 L60.97,186.91 L61.95,187.20 L61.33,188.00 L61.36,189.01 L60.40,188.67 L59.44,189.01 L59.47,188.00 L58.85,187.20 L59.83,186.91Z" fill="#4682b4"/>
<path d="M57.40,185.38 L57.97,186.21 L58.95,186.50 L58.33,187.30 L58.36,188.31 L57.40,187.97 L56.44,188.31 L56.47,187.30 L55.85,186.50 L56.83,186.21Z" fill="#4682b4"/>
<path d="M51.70,194.07 L52.27,194.91 L53.25,195.20 L52.63,196.00 L52.66,197.01 L51.70,196.67 L50.74,197.01 L50.77,196.00 L50.15,195.20 L51.13,194.91Z" fill="#4682b4"/>
<path d="M50.70,199.78 L51.27,200.61 L52.25,200.90 L51.63,201.70 L51.66,202.71 L50.70,202.38 L49.74,202.71 L49.77,201.70 L49.15,200.90 L50.13,200.61Z" fill="#4682b4"/>
<path d="M50.40,200.78 L50.97,201.61 L51.95,201.90 L51.33,202.70 L51.36,203.71 L50.40,203.38 L49.44,203.71 L49.47,202.70 L48.85,201.90 L49.83,201.61Z" fill="#4682b4"/>
<path d="M49.70,205.18 L50.27,206.01 L51.25,206.30 L50.63,207.10 L50.66,208.11 L49.70,207.78 L48.74,208.11 L48.77,207.10 L48.15,206.30 L49.13,206.01Z" fill="#4682b4"/>
<path d="M51.00,209.78 L51.57,210.61 L52.55,210.90 L51.93,211.70 L51.96,212.71 L51.00,212.38 L50.04,212.71 L50.07,211.70 L49.45,210.90 L50.43,210.61Z" fill="#4682b4"/>
<path d="M53.50,196.38 L54.07,197.21 L55.05,197.50 L54.43,198.30 L54.46,199.31 L53.50,198.97 L52.54,199.31 L52.57,198.30 L51.95,197.50 L52.93,197.21Z" fill="#4682b4"/>
<path d="M52.50,201.38 L53.07,202.21 L54.05,202.50 L53.43,203.30 L53.46,204.31 L52.50,203.97 L51.54,204.31 L51.57,203.30 L50.95,202.50 L51.93,202.21Z" fill="#4682b4"/>
<path d="M56.00,190.38 L56.57,191.21 L57.55,191.50 L56.93,192.30 L56.96,193.31 L56.00,192.97 L55.04,193.31 L55.07,192.30 L54.45,191.50 L55.43,191.21Z" fill="#0000ff"/>
<path d="M55.00,192.38 L55.57,193.21 L56.55,193.50 L55.93,194.30 L55.96,195.31 L55.00,194.97 L54.04,195.31 L54.07,194.30 L53.45,193.50 L54.43,193.21Z" fill="#0000ff"/>
<path d="M54.00,195.78 L54.57,196.61 L55.55,196.90 L54.93,197.70 L54.96,198.71 L54.00,198.38 L53.04,198.71 L53.07,197.70 L52.45,196.90 L53.43,196.61Z" fill="#0000ff"/>
<path d="M53.00,198.38 L53.57,199.21 L54.55,199.50 L53.93,200.30 L53.96,201.31 L53.00,200.97 L52.04,201.31 L52.07,200.30 L51.45,199.50 L52.43,199.21Z" fill="#0000ff"/>
<path d="M51.70,203.18 L52.27,204.01 L53.25,204.30 L52.63,205.10 L52.66,206.11 L51.70,205.78 L50.74,206.11 L50.77,205.10 L50.15,204.30 L51.13,204.01Z" fill="#0000ff"/>
<path d="M50.70,206.47 L51.27,207.31 L52.25,207.60 L51.63,208.40 L51.66,209.41 L50.70,209.07 L49.74,209.41 L49.77,208.40 L49.15,207.60 L50.13,207.31Z" fill="#0000ff"/>
<path d="M50.00,212.18 L50.57,213.01 L51.55,213.30 L50.93,214.10 L50.96,215.11 L50.00,214.78 L49.04,215.11 L49.07,214.10 L48.45,213.30 L49.43,213.01Z" fill="#0000ff"/>
<path d="M56.50,187.88 L57.07,188.71 L58.05,189.00 L57.43,189.80 L57.46,190.81 L56.50,190.47 L55.54,190.81 L55.57,189.80 L54.95,189.00 L55.93,188.71Z" fill="#0000ff"/>
<path d="M54.50,194.38 L55.07,195.21 L56.05,195.50 L55.43,196.30 L55.46,197.31 L54.50,196.97 L53.54,197.31 L53.57,196.30 L52.95,195.50 L53.93,195.21Z" fill="#0000ff"/>
<path d="M53.00,209.47 L53.57,210.31 L54.55,210.60 L53.93,211.40 L53.96,212.41 L53.00,212.07 L52.04,212.41 L52.07,211.40 L51.45,210.60 L52.43,210.31Z" fill="#000080"/>
<path d="M56.40,191.78 L56.97,192.61 L57.95,192.90 L57.33,193.70 L57.36,194.71 L56.40,194.38 L55.44,194.71 L55.47,193.70 L54.85,192.90 L55.83,192.61Z" fill="#000080"/>
<path d="M54.00,200.07 L54.57,200.91 L55.55,201.20 L54.93,202.00 L54.96,203.01 L54.00,202.67 L53.04,203.01 L53.07,202.00 L52.45,201.20 L53.43,200.91Z" fill="#000080"/>
</g>
<g clip-path="url(#cb)">
<circle cx="390.60" cy="76.70" r="1.25" fill="#5c5c5c"/>
<circle cx="394.70" cy="74.80" r="1.25" fill="#5c5c5c"/>
<circle cx="366.90" cy="101.10" r="1.25" fill="#5c5c5c"/>
<circle cx="369.90" cy="98.10" r="1.25" fill="#5c5c5c"/>
<circle cx="372.90" cy="95.80" r="1.25" fill="#5c5c5c"/>
<circle cx="375.20" cy="93.90" r="1.25" fill="#5c5c5c"/>
<circle cx="377.40" cy="92.40" r="1.25" fill="#5c5c5c"/>
<circle cx="379.30" cy="91.30" r="1.25" fill="#5c5c5c"/>
<circle cx="381.90" cy="89.40" r="1.25" fill="#5c5c5c"/>
<circle cx="384.20" cy="87.60" r="1.25" fill="#5c5c5c"/>
<circle cx="377.80" cy="88.30" r="1.25" fill="#5c5c5c"/>
<circle cx="373.10" cy="95.80" r="1.25" fill="#5c5c5c"/>
<circle cx="364.70" cy="103.80" r="1.25" fill="#5c5c5c"/>
<circle cx="362.60" cy="105.50" r="1.25" fill="#5c5c5c"/>
<circle cx="360.50" cy="107.60" r="1.25" fill="#5c5c5c"/>
<circle cx="358.80" cy="110.10" r="1.25" fill="#5c5c5c"/>
<circle cx="359.30" cy="112.60" r="1.25" fill="#5c5c5c"/>
<circle cx="356.30" cy="113.00" r="1.25" fill="#5c5c5c"/>
<circle cx="355.90" cy="115.10" r="1.25" fill="#5c5c5c"/>
<circle cx="353.80" cy="117.20" r="1.25" fill="#5c5c5c"/>
<circle cx="353.00" cy="118.40" r="1.25" fill="#5c5c5c"/>
<circle cx="354.70" cy="119.70" r="1.25" fill="#5c5c5c"/>
<circle cx="351.30" cy="121.80" r="1.25" fill="#5c5c5c"/>
<circle cx="348.80" cy="124.30" r="1.25" fill="#5c5c5c"/>
<circle cx="348.00" cy="126.80" r="1.25" fill="#5c5c5c"/>
<circle cx="350.50" cy="129.30" r="1.25" fill="#5c5c5c"/>
<circle cx="346.70" cy="130.60" r="1.25" fill="#5c5c5c"/>
<circle cx="347.10" cy="131.80" r="1.25" fill="#5c5c5c"/>
<circle cx="345.50" cy="135.20" r="1.25" fill="#5c5c5c"/>
<circle cx="346.70" cy="141.00" r="1.25" fill="#5c5c5c"/>
<circle cx="343.80" cy="143.50" r="1.25" fill="#5c5c5c"/>
<circle cx="345.50" cy="143.00" r="1.25" fill="#5c5c5c"/>
<circle cx="344.10" cy="147.50" r="1.25" fill="#5c5c5c"/>
<circle cx="341.10" cy="153.50" r="1.25" fill="#5c5c5c"/>
<circle cx="340.60" cy="156.50" r="1.25" fill="#5c5c5c"/>
<circle cx="338.50" cy="160.00" r="1.25" fill="#5c5c5c"/>
<circle cx="371.20" cy="106.30" r="1.25" fill="#bdb46a"/>
<circle cx="371.20" cy="108.40" r="1.25" fill="#bdb46a"/>
<circle cx="371.20" cy="110.50" r="1.25" fill="#bdb46a"/>
<circle cx="338.50" cy="150.00" r="1.25" fill="#bdb46a"/>
<circle cx="368.00" cy="103.00" r="1.25" fill="#cc8a0c"/>
<circle cx="368.00" cy="105.00" r="1.25" fill="#cc8a0c"/>
<circle cx="368.00" cy="107.10" r="1.25" fill="#cc8a0c"/>
<circle cx="352.60" cy="122.60" r="1.25" fill="#cc8a0c"/>
<circle cx="352.60" cy="124.90" r="1.25" fill="#cc8a0c"/>
<circle cx="352.60" cy="127.20" r="1.25" fill="#cc8a0c"/>
<circle cx="386.10" cy="91.00" r="1.25" fill="#cc8a0c"/>
<circle cx="386.10" cy="93.00" r="1.25" fill="#cc8a0c"/>
<circle cx="386.10" cy="95.00" r="1.25" fill="#cc8a0c"/>
<circle cx="386.10" cy="97.00" r="1.25" fill="#cc8a0c"/>
<circle cx="338.50" cy="155.50" r="1.25" fill="#cc8a0c"/>
<circle cx="338.50" cy="157.00" r="1.25" fill="#cc8a0c"/>
<circle cx="338.80" cy="160.60" r="1.25" fill="#cc8a0c"/>
<circle cx="373.90" cy="106.70" r="1.25" fill="#960808"/>
<circle cx="373.90" cy="112.60" r="1.25" fill="#960808"/>
<circle cx="352.60" cy="125.10" r="1.25" fill="#960808"/>
<circle cx="352.60" cy="138.50" r="1.25" fill="#960808"/>
<circle cx="342.50" cy="139.80" r="1.25" fill="#960808"/>
<circle cx="342.60" cy="147.80" r="1.25" fill="#960808"/>
<circle cx="343.10" cy="161.60" r="1.25" fill="#960808"/>
<circle cx="383.80" cy="93.20" r="1.25" fill="#960808"/>
<circle cx="383.80" cy="95.10" r="1.25" fill="#960808"/>
<circle cx="383.80" cy="98.80" r="1.25" fill="#960808"/>
<path d="M363.90,112.58 L364.47,113.41 L365.45,113.70 L364.83,114.50 L364.86,115.51 L363.90,115.17 L362.94,115.51 L362.97,114.50 L362.35,113.70 L363.33,113.41Z" fill="#d95c5c"/>
<path d="M362.20,114.67 L362.77,115.51 L363.75,115.80 L363.13,116.60 L363.16,117.61 L362.20,117.27 L361.24,117.61 L361.27,116.60 L360.65,115.80 L361.63,115.51Z" fill="#d95c5c"/>
<path d="M360.50,116.78 L361.07,117.61 L362.05,117.90 L361.43,118.70 L361.46,119.71 L360.50,119.38 L359.54,119.71 L359.57,118.70 L358.95,117.90 L359.93,117.61Z" fill="#d95c5c"/>
<path d="M358.40,120.17 L358.97,121.01 L359.95,121.30 L359.33,122.10 L359.36,123.11 L358.40,122.77 L357.44,123.11 L357.47,122.10 L356.85,121.30 L357.83,121.01Z" fill="#d95c5c"/>
<path d="M356.30,130.57 L356.87,131.41 L357.85,131.70 L357.23,132.50 L357.26,133.51 L356.30,133.17 L355.34,133.51 L355.37,132.50 L354.75,131.70 L355.73,131.41Z" fill="#d95c5c"/>
<path d="M344.60,150.88 L345.17,151.71 L346.15,152.00 L345.53,152.80 L345.56,153.81 L344.60,153.47 L343.64,153.81 L343.67,152.80 L343.05,152.00 L344.03,151.71Z" fill="#d95c5c"/>
<path d="M343.50,153.38 L344.07,154.21 L345.05,154.50 L344.43,155.30 L344.46,156.31 L343.50,155.97 L342.54,156.31 L342.57,155.30 L341.95,154.50 L342.93,154.21Z" fill="#d95c5c"/>
<path d="M342.00,155.88 L342.57,156.71 L343.55,157.00 L342.93,157.80 L342.96,158.81 L342.00,158.47 L341.04,158.81 L341.07,157.80 L340.45,157.00 L341.43,156.71Z" fill="#d95c5c"/>
<path d="M340.50,158.38 L341.07,159.21 L342.05,159.50 L341.43,160.30 L341.46,161.31 L340.50,160.97 L339.54,161.31 L339.57,160.30 L338.95,159.50 L339.93,159.21Z" fill="#d95c5c"/>
<path d="M339.00,161.97 L339.57,162.81 L340.55,163.10 L339.93,163.90 L339.96,164.91 L339.00,164.57 L338.04,164.91 L338.07,163.90 L337.45,163.10 L338.43,162.81Z" fill="#d95c5c"/>
<path d="M350.10,142.88 L350.67,143.71 L351.65,144.00 L351.03,144.80 L351.06,145.81 L350.10,145.47 L349.14,145.81 L349.17,144.80 L348.55,144.00 L349.53,143.71Z" fill="#800080"/>
<path d="M349.50,145.38 L350.07,146.21 L351.05,146.50 L350.43,147.30 L350.46,148.31 L349.50,147.97 L348.54,148.31 L348.57,147.30 L347.95,146.50 L348.93,146.21Z" fill="#800080"/>
<path d="M349.00,148.38 L349.57,149.21 L350.55,149.50 L349.93,150.30 L349.96,151.31 L349.00,150.97 L348.04,151.31 L348.07,150.30 L347.45,149.50 L348.43,149.21Z" fill="#800080"/>
<path d="M348.50,150.38 L349.07,151.21 L350.05,151.50 L349.43,152.30 L349.46,153.31 L348.50,152.97 L347.54,153.31 L347.57,152.30 L346.95,151.50 L347.93,151.21Z" fill="#800080"/>
<path d="M348.10,150.88 L348.67,151.71 L349.65,152.00 L349.03,152.80 L349.06,153.81 L348.10,153.47 L347.14,153.81 L347.17,152.80 L346.55,152.00 L347.53,151.71Z" fill="#800080"/>
<path d="M347.60,155.38 L348.17,156.21 L349.15,156.50 L348.53,157.30 L348.56,158.31 L347.60,157.97 L346.64,158.31 L346.67,157.30 L346.05,156.50 L347.03,156.21Z" fill="#800080"/>
<path d="M345.10,156.18 L345.67,157.01 L346.65,157.30 L346.03,158.10 L346.06,159.11 L345.10,158.78 L344.14,159.11 L344.17,158.10 L343.55,157.30 L344.53,157.01Z" fill="#800080"/>
<path d="M317.00,219.38 L317.57,220.21 L318.55,220.50 L317.93,221.30 L317.96,222.31 L317.00,221.97 L316.04,222.31 L316.07,221.30 L315.45,220.50 L316.43,220.21Z" fill="#4682b4"/>
<path d="M319.50,221.38 L320.07,222.21 L321.05,222.50 L320.43,223.30 L320.46,224.31 L319.50,223.97 L318.54,224.31 L318.57,223.30 L317.95,222.50 L318.93,222.21Z" fill="#4682b4"/>
<path d="M320.50,221.88 L321.07,222.71 L322.05,223.00 L321.43,223.80 L321.46,224.81 L320.50,224.47 L319.54,224.81 L319.57,223.80 L318.95,223.00 L319.93,222.71Z" fill="#4682b4"/>
<path d="M318.00,220.38 L318.57,221.21 L319.55,221.50 L318.93,222.30 L318.96,223.31 L318.00,222.97 L317.04,223.31 L317.07,222.30 L316.45,221.50 L317.43,221.21Z" fill="#4682b4"/>
<path d="M316.00,224.38 L316.57,225.21 L317.55,225.50 L316.93,226.30 L316.96,227.31 L316.00,226.97 L315.04,227.31 L315.07,226.30 L314.45,225.50 L315.43,225.21Z" fill="#4682b4"/>
<path d="M315.00,226.38 L315.57,227.21 L316.55,227.50 L315.93,228.30 L315.96,229.31 L315.00,228.97 L314.04,229.31 L314.07,228.30 L313.45,227.50 L314.43,227.21Z" fill="#4682b4"/>
<path d="M313.50,228.38 L314.07,229.21 L315.05,229.50 L314.43,230.30 L314.46,231.31 L313.50,230.97 L312.54,231.31 L312.57,230.30 L311.95,229.50 L312.93,229.21Z" fill="#4682b4"/>
<path d="M312.50,230.38 L313.07,231.21 L314.05,231.50 L313.43,232.30 L313.46,233.31 L312.50,232.97 L311.54,233.31 L311.57,232.30 L310.95,231.50 L311.93,231.21Z" fill="#4682b4"/>
<path d="M311.50,232.38 L312.07,233.21 L313.05,233.50 L312.43,234.30 L312.46,235.31 L311.50,234.97 L310.54,235.31 L310.57,234.30 L309.95,233.50 L310.93,233.21Z" fill="#4682b4"/>
<path d="M310.50,234.38 L311.07,235.21 L312.05,235.50 L311.43,236.30 L311.46,237.31 L310.50,236.97 L309.54,237.31 L309.57,236.30 L308.95,235.50 L309.93,235.21Z" fill="#4682b4"/>
<path d="M310.00,229.38 L310.57,230.21 L311.55,230.50 L310.93,231.30 L310.96,232.31 L310.00,231.97 L309.04,232.31 L309.07,231.30 L308.45,230.50 L309.43,230.21Z" fill="#4682b4"/>
<path d="M314.00,222.88 L314.57,223.71 L315.55,224.00 L314.93,224.80 L314.96,225.81 L314.00,225.47 L313.04,225.81 L313.07,224.80 L312.45,224.00 L313.43,223.71Z" fill="#4682b4"/>
<path d="M315.00,222.38 L315.57,223.21 L316.55,223.50 L315.93,224.30 L315.96,225.31 L315.00,224.97 L314.04,225.31 L314.07,224.30 L313.45,223.50 L314.43,223.21Z" fill="#4682b4"/>
<path d="M314.00,224.88 L314.57,225.71 L315.55,226.00 L314.93,226.80 L314.96,227.81 L314.00,227.47 L313.04,227.81 L313.07,226.80 L312.45,226.00 L313.43,225.71Z" fill="#4682b4"/>
<path d="M313.00,227.38 L313.57,228.21 L314.55,228.50 L313.93,229.30 L313.96,230.31 L313.00,229.97 L312.04,230.31 L312.07,229.30 L311.45,228.50 L312.43,228.21Z" fill="#4682b4"/>
<path d="M312.00,229.38 L312.57,230.21 L313.55,230.50 L312.93,231.30 L312.96,232.31 L312.00,231.97 L311.04,232.31 L311.07,231.30 L310.45,230.50 L311.43,230.21Z" fill="#4682b4"/>
<path d="M317.50,222.38 L318.07,223.21 L319.05,223.50 L318.43,224.30 L318.46,225.31 L317.50,224.97 L316.54,225.31 L316.57,224.30 L315.95,223.50 L316.93,223.21Z" fill="#4682b4"/>
<path d="M316.20,220.88 L316.77,221.71 L317.75,222.00 L317.13,222.80 L317.16,223.81 L316.20,223.47 L315.24,223.81 L315.27,222.80 L314.65,222.00 L315.63,221.71Z" fill="#4682b4"/>
<path d="M311.00,231.38 L311.57,232.21 L312.55,232.50 L311.93,233.30 L311.96,234.31 L311.00,233.97 L310.04,234.31 L310.07,233.30 L309.45,232.50 L310.43,232.21Z" fill="#4682b4"/>
<path d="M313.50,230.38 L314.07,231.21 L315.05,231.50 L314.43,232.30 L314.46,233.31 L313.50,232.97 L312.54,233.31 L312.57,232.30 L311.95,231.50 L312.93,231.21Z" fill="#4682b4"/>
<path d="M314.50,216.38 L315.07,217.21 L316.05,217.50 L315.43,218.30 L315.46,219.31 L314.50,218.97 L313.54,219.31 L313.57,218.30 L312.95,217.50 L313.93,217.21Z" fill="#0000ff"/>
<path d="M313.00,220.38 L313.57,221.21 L314.55,221.50 L313.93,222.30 L313.96,223.31 L313.00,222.97 L312.04,223.31 L312.07,222.30 L311.45,221.50 L312.43,221.21Z" fill="#0000ff"/>
<path d="M311.50,221.38 L312.07,222.21 L313.05,222.50 L312.43,223.30 L312.46,224.31 L311.50,223.97 L310.54,224.31 L310.57,223.30 L309.95,222.50 L310.93,222.21Z" fill="#0000ff"/>
<path d="M310.50,223.88 L311.07,224.71 L312.05,225.00 L311.43,225.80 L311.46,226.81 L310.50,226.47 L309.54,226.81 L309.57,225.80 L308.95,225.00 L309.93,224.71Z" fill="#0000ff"/>
<path d="M309.50,225.88 L310.07,226.71 L311.05,227.00 L310.43,227.80 L310.46,228.81 L309.50,228.47 L308.54,228.81 L308.57,227.80 L307.95,227.00 L308.93,226.71Z" fill="#0000ff"/>
<path d="M309.00,227.38 L309.57,228.21 L310.55,228.50 L309.93,229.30 L309.96,230.31 L309.00,229.97 L308.04,230.31 L308.07,229.30 L307.45,228.50 L308.43,228.21Z" fill="#0000ff"/>
<path d="M313.00,217.88 L313.57,218.71 L314.55,219.00 L313.93,219.80 L313.96,220.81 L313.00,220.47 L312.04,220.81 L312.07,219.80 L311.45,219.00 L312.43,218.71Z" fill="#0000ff"/>
<path d="M312.00,219.38 L312.57,220.21 L313.55,220.50 L312.93,221.30 L312.96,222.31 L312.00,221.97 L311.04,222.31 L311.07,221.30 L310.45,220.50 L311.43,220.21Z" fill="#0000ff"/>
<path d="M310.50,222.38 L311.07,223.21 L312.05,223.50 L311.43,224.30 L311.46,225.31 L310.50,224.97 L309.54,225.31 L309.57,224.30 L308.95,223.50 L309.93,223.21Z" fill="#0000ff"/>
<path d="M309.80,224.88 L310.37,225.71 L311.35,226.00 L310.73,226.80 L310.76,227.81 L309.80,227.47 L308.84,227.81 L308.87,226.80 L308.25,226.00 L309.23,225.71Z" fill="#0000ff"/>
<path d="M311.00,224.38 L311.57,225.21 L312.55,225.50 L311.93,226.30 L311.96,227.31 L311.00,226.97 L310.04,227.31 L310.07,226.30 L309.45,225.50 L310.43,225.21Z" fill="#0000ff"/>
<path d="M315.90,212.07 L316.47,212.91 L317.45,213.20 L316.83,214.00 L316.86,215.01 L315.90,214.67 L314.94,215.01 L314.97,214.00 L314.35,213.20 L315.33,212.91Z" fill="#000080"/>
<path d="M314.50,213.38 L315.07,214.21 L316.05,214.50 L315.43,215.30 L315.46,216.31 L314.50,215.97 L313.54,216.31 L313.57,215.30 L312.95,214.50 L313.93,214.21Z" fill="#000080"/>
<path d="M313.50,214.88 L314.07,215.71 L315.05,216.00 L314.43,216.80 L314.46,217.81 L313.50,217.47 L312.54,217.81 L312.57,216.80 L311.95,216.00 L312.93,215.71Z" fill="#000080"/>
<path d="M312.00,220.78 L312.57,221.61 L313.55,221.90 L312.93,222.70 L312.96,223.71 L312.00,223.38 L311.04,223.71 L311.07,222.70 L310.45,221.90 L311.43,221.61Z" fill="#000080"/>
<path d="M314.80,214.88 L315.37,215.71 L316.35,216.00 L315.73,216.80 L315.76,217.81 L314.80,217.47 L313.84,217.81 L313.87,216.80 L313.25,216.00 L314.23,215.71Z" fill="#000080"/>
<path d="M313.20,216.38 L313.77,217.21 L314.75,217.50 L314.13,218.30 L314.16,219.31 L313.20,218.97 L312.24,219.31 L312.27,218.30 L311.65,217.50 L312.63,217.21Z" fill="#000080"/>
</g>
<g clip-path="url(#cc)">
<circle cx="124.50" cy="366.50" r="1.25" fill="#5c5c5c"/>
<circle cx="137.60" cy="353.30" r="1.25" fill="#5c5c5c"/>
<circle cx="141.30" cy="351.50" r="1.25" fill="#5c5c5c"/>
<circle cx="131.00" cy="372.10" r="1.25" fill="#5c5c5c"/>
<circle cx="129.20" cy="373.90" r="1.25" fill="#5c5c5c"/>
<circle cx="126.10" cy="376.20" r="1.25" fill="#5c5c5c"/>
<circle cx="122.90" cy="378.90" r="1.25" fill="#5c5c5c"/>
<circle cx="119.80" cy="381.10" r="1.25" fill="#5c5c5c"/>
<circle cx="117.10" cy="384.30" r="1.25" fill="#5c5c5c"/>
<circle cx="114.40" cy="387.00" r="1.25" fill="#5c5c5c"/>
<circle cx="111.70" cy="389.70" r="1.25" fill="#5c5c5c"/>
<circle cx="110.80" cy="391.50" r="1.25" fill="#5c5c5c"/>
<circle cx="108.50" cy="394.60" r="1.25" fill="#5c5c5c"/>
<circle cx="106.30" cy="393.70" r="1.25" fill="#5c5c5c"/>
<circle cx="105.80" cy="400.00" r="1.25" fill="#5c5c5c"/>
<circle cx="117.10" cy="377.50" r="1.25" fill="#5c5c5c"/>
<circle cx="126.10" cy="381.10" r="1.25" fill="#5c5c5c"/>
<circle cx="124.30" cy="382.90" r="1.25" fill="#5c5c5c"/>
<circle cx="122.00" cy="384.30" r="1.25" fill="#5c5c5c"/>
<circle cx="113.90" cy="389.20" r="1.25" fill="#5c5c5c"/>
<circle cx="111.20" cy="391.00" r="1.25" fill="#5c5c5c"/>
<circle cx="106.10" cy="400.00" r="1.25" fill="#5c5c5c"/>
<circle cx="103.10" cy="402.00" r="1.25" fill="#5c5c5c"/>
<circle cx="102.90" cy="403.50" r="1.25" fill="#5c5c5c"/>
<circle cx="100.60" cy="407.50" r="1.25" fill="#5c5c5c"/>
<circle cx="99.60" cy="410.00" r="1.25" fill="#5c5c5c"/>
<circle cx="97.60" cy="413.00" r="1.25" fill="#5c5c5c"/>
<circle cx="95.00" cy="418.60" r="1.25" fill="#5c5c5c"/>
<circle cx="94.00" cy="422.10" r="1.25" fill="#5c5c5c"/>
<circle cx="93.00" cy="424.60" r="1.25" fill="#5c5c5c"/>
<circle cx="91.50" cy="428.60" r="1.25" fill="#5c5c5c"/>
<circle cx="91.00" cy="432.60" r="1.25" fill="#5c5c5c"/>
<circle cx="89.00" cy="438.10" r="1.25" fill="#5c5c5c"/>
<circle cx="88.00" cy="444.10" r="1.25" fill="#5c5c5c"/>
<circle cx="89.50" cy="450.70" r="1.25" fill="#5c5c5c"/>
<circle cx="130.00" cy="370.30" r="1.25" fill="#bdb46a"/>
<circle cx="130.00" cy="378.00" r="1.25" fill="#bdb46a"/>
<circle cx="130.00" cy="387.90" r="1.25" fill="#bdb46a"/>
<circle cx="118.40" cy="386.10" r="1.25" fill="#bdb46a"/>
<circle cx="118.40" cy="388.80" r="1.25" fill="#bdb46a"/>
<circle cx="118.40" cy="394.20" r="1.25" fill="#bdb46a"/>
<circle cx="118.40" cy="401.00" r="1.25" fill="#bdb46a"/>
<circle cx="99.10" cy="402.30" r="1.25" fill="#bdb46a"/>
<circle cx="85.50" cy="438.10" r="1.25" fill="#bdb46a"/>
<circle cx="85.50" cy="440.10" r="1.25" fill="#bdb46a"/>
<circle cx="85.50" cy="442.10" r="1.25" fill="#bdb46a"/>
<circle cx="86.00" cy="446.70" r="1.25" fill="#bdb46a"/>
<circle cx="133.10" cy="365.80" r="1.25" fill="#cc8a0c"/>
<circle cx="133.10" cy="372.60" r="1.25" fill="#cc8a0c"/>
<circle cx="133.10" cy="376.60" r="1.25" fill="#cc8a0c"/>
<circle cx="133.10" cy="382.70" r="1.25" fill="#cc8a0c"/>
<circle cx="115.00" cy="378.60" r="1.25" fill="#cc8a0c"/>
<circle cx="115.00" cy="382.90" r="1.25" fill="#cc8a0c"/>
<circle cx="115.00" cy="394.20" r="1.25" fill="#cc8a0c"/>
<circle cx="99.60" cy="416.60" r="1.25" fill="#cc8a0c"/>
<circle cx="99.60" cy="419.60" r="1.25" fill="#cc8a0c"/>
<circle cx="85.50" cy="449.70" r="1.25" fill="#cc8a0c"/>
<circle cx="85.50" cy="451.20" r="1.25" fill="#cc8a0c"/>
<circle cx="130.90" cy="364.50" r="1.25" fill="#960808"/>
<circle cx="130.90" cy="382.00" r="1.25" fill="#960808"/>
<circle cx="121.10" cy="384.30" r="1.25" fill="#960808"/>
<circle cx="121.10" cy="386.50" r="1.25" fill="#960808"/>
<circle cx="121.10" cy="391.50" r="1.25" fill="#960808"/>
<circle cx="99.60" cy="405.00" r="1.25" fill="#960808"/>
<circle cx="99.60" cy="411.50" r="1.25" fill="#960808"/>
<circle cx="99.60" cy="415.10" r="1.25" fill="#960808"/>
<circle cx="89.50" cy="428.10" r="1.25" fill="#960808"/>
<circle cx="89.50" cy="441.10" r="1.25" fill="#960808"/>
<circle cx="89.50" cy="442.60" r="1.25" fill="#960808"/>
<circle cx="99.50" cy="404.50" r="1.25" fill="#960808"/>
<path d="M110.80,382.18 L111.37,383.01 L112.35,383.30 L111.73,384.10 L111.76,385.11 L110.80,384.78 L109.84,385.11 L109.87,384.10 L109.25,383.30 L110.23,383.01Z" fill="#d95c5c"/>
<path d="M109.90,383.07 L110.47,383.91 L111.45,384.20 L110.83,385.00 L110.86,386.01 L109.90,385.68 L108.94,386.01 L108.97,385.00 L108.35,384.20 L109.33,383.91Z" fill="#d95c5c"/>
<path d="M108.50,385.38 L109.07,386.21 L110.05,386.50 L109.43,387.30 L109.46,388.31 L108.50,387.98 L107.54,388.31 L107.57,387.30 L106.95,386.50 L107.93,386.21Z" fill="#d95c5c"/>
<path d="M107.20,388.07 L107.77,388.91 L108.75,389.20 L108.13,390.00 L108.16,391.01 L107.20,390.68 L106.24,391.01 L106.27,390.00 L105.65,389.20 L106.63,388.91Z" fill="#d95c5c"/>
<path d="M105.40,394.38 L105.97,395.21 L106.95,395.50 L106.33,396.30 L106.36,397.31 L105.40,396.98 L104.44,397.31 L104.47,396.30 L103.85,395.50 L104.83,395.21Z" fill="#d95c5c"/>
<path d="M103.10,410.38 L103.67,411.21 L104.65,411.50 L104.03,412.30 L104.06,413.31 L103.10,412.98 L102.14,413.31 L102.17,412.30 L101.55,411.50 L102.53,411.21Z" fill="#d95c5c"/>
<path d="M91.50,427.98 L92.07,428.81 L93.05,429.10 L92.43,429.90 L92.46,430.91 L91.50,430.58 L90.54,430.91 L90.57,429.90 L89.95,429.10 L90.93,428.81Z" fill="#d95c5c"/>
<path d="M90.50,429.98 L91.07,430.81 L92.05,431.10 L91.43,431.90 L91.46,432.91 L90.50,432.58 L89.54,432.91 L89.57,431.90 L88.95,431.10 L89.93,430.81Z" fill="#d95c5c"/>
<path d="M89.50,431.98 L90.07,432.81 L91.05,433.10 L90.43,433.90 L90.46,434.91 L89.50,434.58 L88.54,434.91 L88.57,433.90 L87.95,433.10 L88.93,432.81Z" fill="#d95c5c"/>
<path d="M89.00,432.98 L89.57,433.81 L90.55,434.10 L89.93,434.90 L89.96,435.91 L89.00,435.58 L88.04,435.91 L88.07,434.90 L87.45,434.10 L88.43,433.81Z" fill="#d95c5c"/>
<path d="M86.50,443.48 L87.07,444.31 L88.05,444.60 L87.43,445.40 L87.46,446.41 L86.50,446.08 L85.54,446.41 L85.57,445.40 L84.95,444.60 L85.93,444.31Z" fill="#d95c5c"/>
<path d="M96.50,414.98 L97.07,415.81 L98.05,416.10 L97.43,416.90 L97.46,417.91 L96.50,417.58 L95.54,417.91 L95.57,416.90 L94.95,416.10 L95.93,415.81Z" fill="#800080"/>
<path d="M96.00,417.98 L96.57,418.81 L97.55,419.10 L96.93,419.90 L96.96,420.91 L96.00,420.58 L95.04,420.91 L95.07,419.90 L94.45,419.10 L95.43,418.81Z" fill="#800080"/>
<path d="M95.80,420.48 L96.37,421.31 L97.35,421.60 L96.73,422.40 L96.76,423.41 L95.80,423.08 L94.84,423.41 L94.87,422.40 L94.25,421.60 L95.23,421.31Z" fill="#800080"/>
<path d="M95.50,422.98 L96.07,423.81 L97.05,424.10 L96.43,424.90 L96.46,425.91 L95.50,425.58 L94.54,425.91 L94.57,424.90 L93.95,424.10 L94.93,423.81Z" fill="#800080"/>
<path d="M95.00,423.98 L95.57,424.81 L96.55,425.10 L95.93,425.90 L95.96,426.91 L95.00,426.58 L94.04,426.91 L94.07,425.90 L93.45,425.10 L94.43,424.81Z" fill="#800080"/>
<path d="M94.80,427.98 L95.37,428.81 L96.35,429.10 L95.73,429.90 L95.76,430.91 L94.80,430.58 L93.84,430.91 L93.87,429.90 L93.25,429.10 L94.23,428.81Z" fill="#800080"/>
<path d="M92.00,436.48 L92.57,437.31 L93.55,437.60 L92.93,438.40 L92.96,439.41 L92.00,439.08 L91.04,439.41 L91.07,438.40 L90.45,437.60 L91.43,437.31Z" fill="#800080"/>
<path d="M94.50,434.48 L95.07,435.31 L96.05,435.60 L95.43,436.40 L95.46,437.41 L94.50,437.08 L93.54,437.41 L93.57,436.40 L92.95,435.60 L93.93,435.31Z" fill="#800080"/>
<path d="M63.50,511.38 L64.07,512.21 L65.05,512.50 L64.43,513.30 L64.46,514.31 L63.50,513.98 L62.54,514.31 L62.57,513.30 L61.95,512.50 L62.93,512.21Z" fill="#4682b4"/>
<path d="M65.00,513.88 L65.57,514.71 L66.55,515.00 L65.93,515.80 L65.96,516.81 L65.00,516.48 L64.04,516.81 L64.07,515.80 L63.45,515.00 L64.43,514.71Z" fill="#4682b4"/>
<path d="M66.50,514.38 L67.07,515.21 L68.05,515.50 L67.43,516.30 L67.46,517.31 L66.50,516.98 L65.54,517.31 L65.57,516.30 L64.95,515.50 L65.93,515.21Z" fill="#4682b4"/>
<path d="M62.00,516.38 L62.57,517.21 L63.55,517.50 L62.93,518.30 L62.96,519.31 L62.00,518.98 L61.04,519.31 L61.07,518.30 L60.45,517.50 L61.43,517.21Z" fill="#4682b4"/>
<path d="M61.00,519.38 L61.57,520.21 L62.55,520.50 L61.93,521.30 L61.96,522.31 L61.00,521.98 L60.04,522.31 L60.07,521.30 L59.45,520.50 L60.43,520.21Z" fill="#4682b4"/>
<path d="M60.50,522.38 L61.07,523.21 L62.05,523.50 L61.43,524.30 L61.46,525.31 L60.50,524.98 L59.54,525.31 L59.57,524.30 L58.95,523.50 L59.93,523.21Z" fill="#4682b4"/>
<path d="M59.50,525.38 L60.07,526.21 L61.05,526.50 L60.43,527.30 L60.46,528.31 L59.50,527.98 L58.54,528.31 L58.57,527.30 L57.95,526.50 L58.93,526.21Z" fill="#4682b4"/>
<path d="M58.50,527.38 L59.07,528.21 L60.05,528.50 L59.43,529.30 L59.46,530.31 L58.50,529.98 L57.54,530.31 L57.57,529.30 L56.95,528.50 L57.93,528.21Z" fill="#4682b4"/>
<path d="M58.00,530.38 L58.57,531.21 L59.55,531.50 L58.93,532.30 L58.96,533.31 L58.00,532.98 L57.04,533.31 L57.07,532.30 L56.45,531.50 L57.43,531.21Z" fill="#4682b4"/>
<path d="M57.00,532.38 L57.57,533.21 L58.55,533.50 L57.93,534.30 L57.96,535.31 L57.00,534.98 L56.04,535.31 L56.07,534.30 L55.45,533.50 L56.43,533.21Z" fill="#4682b4"/>
<path d="M56.50,534.38 L57.07,535.21 L58.05,535.50 L57.43,536.30 L57.46,537.31 L56.50,536.98 L55.54,537.31 L55.57,536.30 L54.95,535.50 L55.93,535.21Z" fill="#4682b4"/>
<path d="M60.00,528.38 L60.57,529.21 L61.55,529.50 L60.93,530.30 L60.96,531.31 L60.00,530.98 L59.04,531.31 L59.07,530.30 L58.45,529.50 L59.43,529.21Z" fill="#4682b4"/>
<path d="M62.50,522.38 L63.07,523.21 L64.05,523.50 L63.43,524.30 L63.46,525.31 L62.50,524.98 L61.54,525.31 L61.57,524.30 L60.95,523.50 L61.93,523.21Z" fill="#4682b4"/>
<path d="M61.50,512.38 L62.07,513.21 L63.05,513.50 L62.43,514.30 L62.46,515.31 L61.50,514.98 L60.54,515.31 L60.57,514.30 L59.95,513.50 L60.93,513.21Z" fill="#0000ff"/>
<path d="M60.50,515.38 L61.07,516.21 L62.05,516.50 L61.43,517.30 L61.46,518.31 L60.50,517.98 L59.54,518.31 L59.57,517.30 L58.95,516.50 L59.93,516.21Z" fill="#0000ff"/>
<path d="M59.50,517.38 L60.07,518.21 L61.05,518.50 L60.43,519.30 L60.46,520.31 L59.50,519.98 L58.54,520.31 L58.57,519.30 L57.95,518.50 L58.93,518.21Z" fill="#0000ff"/>
<path d="M58.50,519.38 L59.07,520.21 L60.05,520.50 L59.43,521.30 L59.46,522.31 L58.50,521.98 L57.54,522.31 L57.57,521.30 L56.95,520.50 L57.93,520.21Z" fill="#0000ff"/>
<path d="M58.00,521.38 L58.57,522.21 L59.55,522.50 L58.93,523.30 L58.96,524.31 L58.00,523.98 L57.04,524.31 L57.07,523.30 L56.45,522.50 L57.43,522.21Z" fill="#0000ff"/>
<path d="M57.00,524.38 L57.57,525.21 L58.55,525.50 L57.93,526.30 L57.96,527.31 L57.00,526.98 L56.04,527.31 L56.07,526.30 L55.45,525.50 L56.43,525.21Z" fill="#0000ff"/>
<path d="M56.50,526.88 L57.07,527.71 L58.05,528.00 L57.43,528.80 L57.46,529.81 L56.50,529.48 L55.54,529.81 L55.57,528.80 L54.95,528.00 L55.93,527.71Z" fill="#0000ff"/>
<path d="M55.50,528.38 L56.07,529.21 L57.05,529.50 L56.43,530.30 L56.46,531.31 L55.50,530.98 L54.54,531.31 L54.57,530.30 L53.95,529.50 L54.93,529.21Z" fill="#0000ff"/>
<path d="M56.00,527.38 L56.57,528.21 L57.55,528.50 L56.93,529.30 L56.96,530.31 L56.00,529.98 L55.04,530.31 L55.07,529.30 L54.45,528.50 L55.43,528.21Z" fill="#0000ff"/>
<path d="M63.00,507.18 L63.57,508.01 L64.55,508.30 L63.93,509.10 L63.96,510.11 L63.00,509.78 L62.04,510.11 L62.07,509.10 L61.45,508.30 L62.43,508.01Z" fill="#000080"/>
<path d="M62.00,509.88 L62.57,510.71 L63.55,511.00 L62.93,511.80 L62.96,512.81 L62.00,512.48 L61.04,512.81 L61.07,511.80 L60.45,511.00 L61.43,510.71Z" fill="#000080"/>
<path d="M61.00,511.38 L61.57,512.21 L62.55,512.50 L61.93,513.30 L61.96,514.31 L61.00,513.98 L60.04,514.31 L60.07,513.30 L59.45,512.50 L60.43,512.21Z" fill="#000080"/>
<path d="M60.00,517.38 L60.57,518.21 L61.55,518.50 L60.93,519.30 L60.96,520.31 L60.00,519.98 L59.04,520.31 L59.07,519.30 L58.45,518.50 L59.43,518.21Z" fill="#000080"/>
<path d="M58.00,523.38 L58.57,524.21 L59.55,524.50 L58.93,525.30 L58.96,526.31 L58.00,525.98 L57.04,526.31 L57.07,525.30 L56.45,524.50 L57.43,524.21Z" fill="#000080"/>
</g>
<rect x="35.6" y="5.4" width="194.80" height="243.60" fill="none" stroke="#333333" stroke-width="1.0"/>
<line x1="32.60" x2="35.6" y1="249.00" y2="249.00" stroke="#262626" stroke-width="0.9"/>
<line x1="33.60" x2="35.6" y1="239.11" y2="239.11" stroke="#262626" stroke-width="0.7"/>
<line x1="33.60" x2="35.6" y1="233.32" y2="233.32" stroke="#262626" stroke-width="0.7"/>
<line x1="33.60" x2="35.6" y1="229.22" y2="229.22" stroke="#262626" stroke-width="0.7"/>
<line x1="33.60" x2="35.6" y1="226.03" y2="226.03" stroke="#262626" stroke-width="0.7"/>
<line x1="33.60" x2="35.6" y1="223.43" y2="223.43" stroke="#262626" stroke-width="0.7"/>
<line x1="33.60" x2="35.6" y1="221.23" y2="221.23" stroke="#262626" stroke-width="0.7"/>
<line x1="33.60" x2="35.6" y1="219.32" y2="219.32" stroke="#262626" stroke-width="0.7"/>
<line x1="33.60" x2="35.6" y1="217.64" y2="217.64" stroke="#262626" stroke-width="0.7"/>
<line x1="32.60" x2="35.6" y1="216.14" y2="216.14" stroke="#262626" stroke-width="0.9"/>
<line x1="33.60" x2="35.6" y1="206.25" y2="206.25" stroke="#262626" stroke-width="0.7"/>
<line x1="33.60" x2="35.6" y1="200.46" y2="200.46" stroke="#262626" stroke-width="0.7"/>
<line x1="33.60" x2="35.6" y1="196.36" y2="196.36" stroke="#262626" stroke-width="0.7"/>
<line x1="33.60" x2="35.6" y1="193.17" y2="193.17" stroke="#262626" stroke-width="0.7"/>
<line x1="33.60" x2="35.6" y1="190.57" y2="190.57" stroke="#262626" stroke-width="0.7"/>
<line x1="33.60" x2="35.6" y1="188.37" y2="188.37" stroke="#262626" stroke-width="0.7"/>
<line x1="33.60" x2="35.6" y1="186.46" y2="186.46" stroke="#262626" stroke-width="0.7"/>
<line x1="33.60" x2="35.6" y1="184.78" y2="184.78" stroke="#262626" stroke-width="0.7"/>
<line x1="32.60" x2="35.6" y1="183.28" y2="183.28" stroke="#262626" stroke-width="0.9"/>
<line x1="33.60" x2="35.6" y1="173.39" y2="173.39" stroke="#262626" stroke-width="0.7"/>
<line x1="33.60" x2="35.6" y1="167.60" y2="167.60" stroke="#262626" stroke-width="0.7"/>
<line x1="33.60" x2="35.6" y1="163.50" y2="163.50" stroke="#262626" stroke-width="0.7"/>
<line x1="33.60" x2="35.6" y1="160.31" y2="160.31" stroke="#262626" stroke-width="0.7"/>
<line x1="33.60" x2="35.6" y1="157.71" y2="157.71" stroke="#262626" stroke-width="0.7"/>
<line x1="33.60" x2="35.6" y1="155.51" y2="155.51" stroke="#262626" stroke-width="0.7"/>
<line x1="33.60" x2="35.6" y1="153.60" y2="153.60" stroke="#262626" stroke-width="0.7"/>
<line x1="33.60" x2="35.6" y1="151.92" y2="151.92" stroke="#262626" stroke-width="0.7"/>
<line x1="32.60" x2="35.6" y1="150.42" y2="150.42" stroke="#262626" stroke-width="0.9"/>
<line x1="33.60" x2="35.6" y1="140.53" y2="140.53" stroke="#262626" stroke-width="0.7"/>
<line x1="33.60" x2="35.6" y1="134.74" y2="134.74" stroke="#262626" stroke-width="0.7"/>
<line x1="33.60" x2="35.6" y1="130.64" y2="130.64" stroke="#262626" stroke-width="0.7"/>
<line x1="33.60" x2="35.6" y1="127.45" y2="127.45" stroke="#262626" stroke-width="0.7"/>
<line x1="33.60" x2="35.6" y1="124.85" y2="124.85" stroke="#262626" stroke-width="0.7"/>
<line x1="33.60" x2="35.6" y1="122.65" y2="122.65" stroke="#262626" stroke-width="0.7"/>
<line x1="33.60" x2="35.6" y1="120.74" y2="120.74" stroke="#262626" stroke-width="0.7"/>
<line x1="33.60" x2="35.6" y1="119.06" y2="119.06" stroke="#262626" stroke-width="0.7"/>
<line x1="32.60" x2="35.6" y1="117.56" y2="117.56" stroke="#262626" stroke-width="0.9"/>
<line x1="33.60" x2="35.6" y1="107.67" y2="107.67" stroke="#262626" stroke-width="0.7"/>
<line x1="33.60" x2="35.6" y1="101.88" y2="101.88" stroke="#262626" stroke-width="0.7"/>
<line x1="33.60" x2="35.6" y1="97.78" y2="97.78" stroke="#262626" stroke-width="0.7"/>
<line x1="33.60" x2="35.6" y1="94.59" y2="94.59" stroke="#262626" stroke-width="0.7"/>
<line x1="33.60" x2="35.6" y1="91.99" y2="91.99" stroke="#262626" stroke-width="0.7"/>
<line x1="33.60" x2="35.6" y1="89.79" y2="89.79" stroke="#262626" stroke-width="0.7"/>
<line x1="33.60" x2="35.6" y1="87.88" y2="87.88" stroke="#262626" stroke-width="0.7"/>
<line x1="33.60" x2="35.6" y1="86.20" y2="86.20" stroke="#262626" stroke-width="0.7"/>
<line x1="32.60" x2="35.6" y1="84.70" y2="84.70" stroke="#262626" stroke-width="0.9"/>
<line x1="33.60" x2="35.6" y1="74.81" y2="74.81" stroke="#262626" stroke-width="0.7"/>
<line x1="33.60" x2="35.6" y1="69.02" y2="69.02" stroke="#262626" stroke-width="0.7"/>
<line x1="33.60" x2="35.6" y1="64.92" y2="64.92" stroke="#262626" stroke-width="0.7"/>
<line x1="33.60" x2="35.6" y1="61.73" y2="61.73" stroke="#262626" stroke-width="0.7"/>
<line x1="33.60" x2="35.6" y1="59.13" y2="59.13" stroke="#262626" stroke-width="0.7"/>
<line x1="33.60" x2="35.6" y1="56.93" y2="56.93" stroke="#262626" stroke-width="0.7"/>
<line x1="33.60" x2="35.6" y1="55.02" y2="55.02" stroke="#262626" stroke-width="0.7"/>
<line x1="33.60" x2="35.6" y1="53.34" y2="53.34" stroke="#262626" stroke-width="0.7"/>
<line x1="32.60" x2="35.6" y1="51.84" y2="51.84" stroke="#262626" stroke-width="0.9"/>
<line x1="33.60" x2="35.6" y1="41.95" y2="41.95" stroke="#262626" stroke-width="0.7"/>
<line x1="33.60" x2="35.6" y1="36.16" y2="36.16" stroke="#262626" stroke-width="0.7"/>
<line x1="33.60" x2="35.6" y1="32.06" y2="32.06" stroke="#262626" stroke-width="0.7"/>
<line x1="33.60" x2="35.6" y1="28.87" y2="28.87" stroke="#262626" stroke-width="0.7"/>
<line x1="33.60" x2="35.6" y1="26.27" y2="26.27" stroke="#262626" stroke-width="0.7"/>
<line x1="33.60" x2="35.6" y1="24.07" y2="24.07" stroke="#262626" stroke-width="0.7"/>
<line x1="33.60" x2="35.6" y1="22.16" y2="22.16" stroke="#262626" stroke-width="0.7"/>
<line x1="33.60" x2="35.6" y1="20.48" y2="20.48" stroke="#262626" stroke-width="0.7"/>
<line x1="32.60" x2="35.6" y1="18.98" y2="18.98" stroke="#262626" stroke-width="0.9"/>
<line x1="33.60" x2="35.6" y1="9.09" y2="9.09" stroke="#262626" stroke-width="0.7"/>
<line x1="35.60" x2="35.60" y1="249.0" y2="252.0" stroke="#262626" stroke-width="0.9"/>
<text x="35.60" y="261.60" font-family="Liberation Serif" font-size="9" font-weight="normal" text-anchor="middle" fill="#1a1a1a" textLength="11.2" lengthAdjust="spacingAndGlyphs">0.0</text>
<line x1="74.56" x2="74.56" y1="249.0" y2="252.0" stroke="#262626" stroke-width="0.9"/>
<text x="74.56" y="261.60" font-family="Liberation Serif" font-size="9" font-weight="normal" text-anchor="middle" fill="#1a1a1a" textLength="11.2" lengthAdjust="spacingAndGlyphs">0.2</text>
<line x1="113.52" x2="113.52" y1="249.0" y2="252.0" stroke="#262626" stroke-width="0.9"/>
<text x="113.52" y="261.60" font-family="Liberation Serif" font-size="9" font-weight="normal" text-anchor="middle" fill="#1a1a1a" textLength="11.2" lengthAdjust="spacingAndGlyphs">0.4</text>
<line x1="152.48" x2="152.48" y1="249.0" y2="252.0" stroke="#262626" stroke-width="0.9"/>
<text x="152.48" y="261.60" font-family="Liberation Serif" font-size="9" font-weight="normal" text-anchor="middle" fill="#1a1a1a" textLength="11.2" lengthAdjust="spacingAndGlyphs">0.6</text>
<line x1="191.44" x2="191.44" y1="249.0" y2="252.0" stroke="#262626" stroke-width="0.9"/>
<text x="191.44" y="261.60" font-family="Liberation Serif" font-size="9" font-weight="normal" text-anchor="middle" fill="#1a1a1a" textLength="11.2" lengthAdjust="spacingAndGlyphs">0.8</text>
<line x1="230.40" x2="230.40" y1="249.0" y2="252.0" stroke="#262626" stroke-width="0.9"/>
<text x="230.40" y="261.60" font-family="Liberation Serif" font-size="9" font-weight="normal" text-anchor="middle" fill="#1a1a1a" textLength="11.2" lengthAdjust="spacingAndGlyphs">1.0</text>
<text x="29.40" y="248.30" font-family="Liberation Serif" font-size="6.2" text-anchor="end" fill="#1a1a1a">0</text>
<text x="26.30" y="252.40" font-family="Liberation Serif" font-size="9" text-anchor="end" fill="#1a1a1a" textLength="7.8" lengthAdjust="spacingAndGlyphs">10</text>
<text x="29.40" y="215.44" font-family="Liberation Serif" font-size="6.2" text-anchor="end" fill="#1a1a1a">1</text>
<text x="26.30" y="219.54" font-family="Liberation Serif" font-size="9" text-anchor="end" fill="#1a1a1a" textLength="7.8" lengthAdjust="spacingAndGlyphs">10</text>
<text x="29.40" y="182.58" font-family="Liberation Serif" font-size="6.2" text-anchor="end" fill="#1a1a1a">2</text>
<text x="26.30" y="186.68" font-family="Liberation Serif" font-size="9" text-anchor="end" fill="#1a1a1a" textLength="7.8" lengthAdjust="spacingAndGlyphs">10</text>
<text x="29.40" y="149.72" font-family="Liberation Serif" font-size="6.2" text-anchor="end" fill="#1a1a1a">3</text>
<text x="26.30" y="153.82" font-family="Liberation Serif" font-size="9" text-anchor="end" fill="#1a1a1a" textLength="7.8" lengthAdjust="spacingAndGlyphs">10</text>
<text x="29.40" y="116.86" font-family="Liberation Serif" font-size="6.2" text-anchor="end" fill="#1a1a1a">4</text>
<text x="26.30" y="120.96" font-family="Liberation Serif" font-size="9" text-anchor="end" fill="#1a1a1a" textLength="7.8" lengthAdjust="spacingAndGlyphs">10</text>
<text x="29.40" y="84.00" font-family="Liberation Serif" font-size="6.2" text-anchor="end" fill="#1a1a1a">5</text>
<text x="26.30" y="88.10" font-family="Liberation Serif" font-size="9" text-anchor="end" fill="#1a1a1a" textLength="7.8" lengthAdjust="spacingAndGlyphs">10</text>
<text x="29.40" y="51.14" font-family="Liberation Serif" font-size="6.2" text-anchor="end" fill="#1a1a1a">6</text>
<text x="26.30" y="55.24" font-family="Liberation Serif" font-size="9" text-anchor="end" fill="#1a1a1a" textLength="7.8" lengthAdjust="spacingAndGlyphs">10</text>
<text x="29.40" y="18.28" font-family="Liberation Serif" font-size="6.2" text-anchor="end" fill="#1a1a1a">7</text>
<text x="26.30" y="22.38" font-family="Liberation Serif" font-size="9" text-anchor="end" fill="#1a1a1a" textLength="7.8" lengthAdjust="spacingAndGlyphs">10</text>
<text x="133.00" y="273.00" font-family="Liberation Serif" font-size="10" font-weight="normal" text-anchor="middle" fill="#1a1a1a" textLength="64.9" lengthAdjust="spacingAndGlyphs">Solid fraction Φ</text>
<text transform="translate(11.7,127.20) rotate(-90)" x="0" y="0" font-family="Liberation Serif" font-size="10" text-anchor="middle" fill="#1a1a1a" textLength="108.5" lengthAdjust="spacingAndGlyphs">Reference stress <tspan font-style="italic">σ</tspan><tspan font-size="7" dy="2">0</tspan><tspan dy="-2"> (MPa)</tspan></text>
<rect x="295.0" y="6.5" width="194.50" height="243.00" fill="none" stroke="#333333" stroke-width="1.0"/>
<line x1="293.00" x2="295.0" y1="249.14" y2="249.14" stroke="#262626" stroke-width="0.7"/>
<line x1="293.00" x2="295.0" y1="243.30" y2="243.30" stroke="#262626" stroke-width="0.7"/>
<line x1="293.00" x2="295.0" y1="238.77" y2="238.77" stroke="#262626" stroke-width="0.7"/>
<line x1="293.00" x2="295.0" y1="235.07" y2="235.07" stroke="#262626" stroke-width="0.7"/>
<line x1="293.00" x2="295.0" y1="231.94" y2="231.94" stroke="#262626" stroke-width="0.7"/>
<line x1="293.00" x2="295.0" y1="229.23" y2="229.23" stroke="#262626" stroke-width="0.7"/>
<line x1="293.00" x2="295.0" y1="226.84" y2="226.84" stroke="#262626" stroke-width="0.7"/>
<line x1="292.00" x2="295.0" y1="224.70" y2="224.70" stroke="#262626" stroke-width="0.9"/>
<line x1="293.00" x2="295.0" y1="210.63" y2="210.63" stroke="#262626" stroke-width="0.7"/>
<line x1="293.00" x2="295.0" y1="202.39" y2="202.39" stroke="#262626" stroke-width="0.7"/>
<line x1="293.00" x2="295.0" y1="196.55" y2="196.55" stroke="#262626" stroke-width="0.7"/>
<line x1="293.00" x2="295.0" y1="192.02" y2="192.02" stroke="#262626" stroke-width="0.7"/>
<line x1="293.00" x2="295.0" y1="188.32" y2="188.32" stroke="#262626" stroke-width="0.7"/>
<line x1="293.00" x2="295.0" y1="185.19" y2="185.19" stroke="#262626" stroke-width="0.7"/>
<line x1="293.00" x2="295.0" y1="182.48" y2="182.48" stroke="#262626" stroke-width="0.7"/>
<line x1="293.00" x2="295.0" y1="180.09" y2="180.09" stroke="#262626" stroke-width="0.7"/>
<line x1="292.00" x2="295.0" y1="177.95" y2="177.95" stroke="#262626" stroke-width="0.9"/>
<line x1="293.00" x2="295.0" y1="163.88" y2="163.88" stroke="#262626" stroke-width="0.7"/>
<line x1="293.00" x2="295.0" y1="155.64" y2="155.64" stroke="#262626" stroke-width="0.7"/>
<line x1="293.00" x2="295.0" y1="149.80" y2="149.80" stroke="#262626" stroke-width="0.7"/>
<line x1="293.00" x2="295.0" y1="145.27" y2="145.27" stroke="#262626" stroke-width="0.7"/>
<line x1="293.00" x2="295.0" y1="141.57" y2="141.57" stroke="#262626" stroke-width="0.7"/>
<line x1="293.00" x2="295.0" y1="138.44" y2="138.44" stroke="#262626" stroke-width="0.7"/>
<line x1="293.00" x2="295.0" y1="135.73" y2="135.73" stroke="#262626" stroke-width="0.7"/>
<line x1="293.00" x2="295.0" y1="133.34" y2="133.34" stroke="#262626" stroke-width="0.7"/>
<line x1="292.00" x2="295.0" y1="131.20" y2="131.20" stroke="#262626" stroke-width="0.9"/>
<line x1="293.00" x2="295.0" y1="117.13" y2="117.13" stroke="#262626" stroke-width="0.7"/>
<line x1="293.00" x2="295.0" y1="108.89" y2="108.89" stroke="#262626" stroke-width="0.7"/>
<line x1="293.00" x2="295.0" y1="103.05" y2="103.05" stroke="#262626" stroke-width="0.7"/>
<line x1="293.00" x2="295.0" y1="98.52" y2="98.52" stroke="#262626" stroke-width="0.7"/>
<line x1="293.00" x2="295.0" y1="94.82" y2="94.82" stroke="#262626" stroke-width="0.7"/>
<line x1="293.00" x2="295.0" y1="91.69" y2="91.69" stroke="#262626" stroke-width="0.7"/>
<line x1="293.00" x2="295.0" y1="88.98" y2="88.98" stroke="#262626" stroke-width="0.7"/>
<line x1="293.00" x2="295.0" y1="86.59" y2="86.59" stroke="#262626" stroke-width="0.7"/>
<line x1="292.00" x2="295.0" y1="84.45" y2="84.45" stroke="#262626" stroke-width="0.9"/>
<line x1="293.00" x2="295.0" y1="70.38" y2="70.38" stroke="#262626" stroke-width="0.7"/>
<line x1="293.00" x2="295.0" y1="62.14" y2="62.14" stroke="#262626" stroke-width="0.7"/>
<line x1="293.00" x2="295.0" y1="56.30" y2="56.30" stroke="#262626" stroke-width="0.7"/>
<line x1="293.00" x2="295.0" y1="51.77" y2="51.77" stroke="#262626" stroke-width="0.7"/>
<line x1="293.00" x2="295.0" y1="48.07" y2="48.07" stroke="#262626" stroke-width="0.7"/>
<line x1="293.00" x2="295.0" y1="44.94" y2="44.94" stroke="#262626" stroke-width="0.7"/>
<line x1="293.00" x2="295.0" y1="42.23" y2="42.23" stroke="#262626" stroke-width="0.7"/>
<line x1="293.00" x2="295.0" y1="39.84" y2="39.84" stroke="#262626" stroke-width="0.7"/>
<line x1="292.00" x2="295.0" y1="37.70" y2="37.70" stroke="#262626" stroke-width="0.9"/>
<line x1="293.00" x2="295.0" y1="23.63" y2="23.63" stroke="#262626" stroke-width="0.7"/>
<line x1="293.00" x2="295.0" y1="15.39" y2="15.39" stroke="#262626" stroke-width="0.7"/>
<line x1="293.00" x2="295.0" y1="9.55" y2="9.55" stroke="#262626" stroke-width="0.7"/>
<line x1="295.00" x2="295.00" y1="249.5" y2="252.5" stroke="#262626" stroke-width="0.9"/>
<text x="295.00" y="262.00" font-family="Liberation Serif" font-size="9" font-weight="normal" text-anchor="middle" fill="#1a1a1a" textLength="11.2" lengthAdjust="spacingAndGlyphs">0.0</text>
<line x1="333.90" x2="333.90" y1="249.5" y2="252.5" stroke="#262626" stroke-width="0.9"/>
<text x="333.90" y="262.00" font-family="Liberation Serif" font-size="9" font-weight="normal" text-anchor="middle" fill="#1a1a1a" textLength="11.2" lengthAdjust="spacingAndGlyphs">0.2</text>
<line x1="372.80" x2="372.80" y1="249.5" y2="252.5" stroke="#262626" stroke-width="0.9"/>
<text x="372.80" y="262.00" font-family="Liberation Serif" font-size="9" font-weight="normal" text-anchor="middle" fill="#1a1a1a" textLength="11.2" lengthAdjust="spacingAndGlyphs">0.4</text>
<line x1="411.70" x2="411.70" y1="249.5" y2="252.5" stroke="#262626" stroke-width="0.9"/>
<text x="411.70" y="262.00" font-family="Liberation Serif" font-size="9" font-weight="normal" text-anchor="middle" fill="#1a1a1a" textLength="11.2" lengthAdjust="spacingAndGlyphs">0.6</text>
<line x1="450.60" x2="450.60" y1="249.5" y2="252.5" stroke="#262626" stroke-width="0.9"/>
<text x="450.60" y="262.00" font-family="Liberation Serif" font-size="9" font-weight="normal" text-anchor="middle" fill="#1a1a1a" textLength="11.2" lengthAdjust="spacingAndGlyphs">0.8</text>
<line x1="489.50" x2="489.50" y1="249.5" y2="252.5" stroke="#262626" stroke-width="0.9"/>
<text x="489.50" y="262.00" font-family="Liberation Serif" font-size="9" font-weight="normal" text-anchor="middle" fill="#1a1a1a" textLength="11.2" lengthAdjust="spacingAndGlyphs">1.0</text>
<text x="288.80" y="224.10" font-family="Liberation Serif" font-size="6.2" text-anchor="end" fill="#1a1a1a">2</text>
<line x1="281.40" x2="285.60" y1="223.00" y2="223.00" stroke="#1a1a1a" stroke-width="0.6"/>
<text x="280.80" y="228.10" font-family="Liberation Serif" font-size="9" text-anchor="end" fill="#1a1a1a" textLength="7.8" lengthAdjust="spacingAndGlyphs">10</text>
<text x="288.80" y="177.35" font-family="Liberation Serif" font-size="6.2" text-anchor="end" fill="#1a1a1a">1</text>
<line x1="281.40" x2="285.60" y1="176.25" y2="176.25" stroke="#1a1a1a" stroke-width="0.6"/>
<text x="280.80" y="181.35" font-family="Liberation Serif" font-size="9" text-anchor="end" fill="#1a1a1a" textLength="7.8" lengthAdjust="spacingAndGlyphs">10</text>
<text x="288.80" y="130.50" font-family="Liberation Serif" font-size="6.2" text-anchor="end" fill="#1a1a1a">0</text>
<text x="285.70" y="134.60" font-family="Liberation Serif" font-size="9" text-anchor="end" fill="#1a1a1a" textLength="7.8" lengthAdjust="spacingAndGlyphs">10</text>
<text x="288.80" y="83.75" font-family="Liberation Serif" font-size="6.2" text-anchor="end" fill="#1a1a1a">1</text>
<text x="285.70" y="87.85" font-family="Liberation Serif" font-size="9" text-anchor="end" fill="#1a1a1a" textLength="7.8" lengthAdjust="spacingAndGlyphs">10</text>
<text x="288.80" y="37.00" font-family="Liberation Serif" font-size="6.2" text-anchor="end" fill="#1a1a1a">2</text>
<text x="285.70" y="41.10" font-family="Liberation Serif" font-size="9" text-anchor="end" fill="#1a1a1a" textLength="7.8" lengthAdjust="spacingAndGlyphs">10</text>
<text x="392.25" y="273.90" font-family="Liberation Serif" font-size="10" font-weight="normal" text-anchor="middle" fill="#1a1a1a" textLength="64.9" lengthAdjust="spacingAndGlyphs">Solid fraction Φ</text>
<text transform="translate(265.8,128.00) rotate(-90)" x="0" y="0" font-family="Liberation Serif" font-size="10" text-anchor="middle" fill="#1a1a1a" textLength="108.5" lengthAdjust="spacingAndGlyphs">Reference stress <tspan font-style="italic">σ</tspan><tspan font-size="7" dy="2">0</tspan><tspan dy="-2"> (MPa)</tspan></text>
<rect x="41.5" y="308.3" width="194.80" height="243.00" fill="none" stroke="#333333" stroke-width="1.0"/>
<line x1="39.50" x2="41.5" y1="542.12" y2="542.12" stroke="#262626" stroke-width="0.7"/>
<line x1="39.50" x2="41.5" y1="532.76" y2="532.76" stroke="#262626" stroke-width="0.7"/>
<line x1="39.50" x2="41.5" y1="526.13" y2="526.13" stroke="#262626" stroke-width="0.7"/>
<line x1="39.50" x2="41.5" y1="520.98" y2="520.98" stroke="#262626" stroke-width="0.7"/>
<line x1="39.50" x2="41.5" y1="516.78" y2="516.78" stroke="#262626" stroke-width="0.7"/>
<line x1="39.50" x2="41.5" y1="513.23" y2="513.23" stroke="#262626" stroke-width="0.7"/>
<line x1="39.50" x2="41.5" y1="510.15" y2="510.15" stroke="#262626" stroke-width="0.7"/>
<line x1="39.50" x2="41.5" y1="507.43" y2="507.43" stroke="#262626" stroke-width="0.7"/>
<line x1="38.50" x2="41.5" y1="505.00" y2="505.00" stroke="#262626" stroke-width="0.9"/>
<line x1="39.50" x2="41.5" y1="489.02" y2="489.02" stroke="#262626" stroke-width="0.7"/>
<line x1="39.50" x2="41.5" y1="479.66" y2="479.66" stroke="#262626" stroke-width="0.7"/>
<line x1="39.50" x2="41.5" y1="473.03" y2="473.03" stroke="#262626" stroke-width="0.7"/>
<line x1="39.50" x2="41.5" y1="467.88" y2="467.88" stroke="#262626" stroke-width="0.7"/>
<line x1="39.50" x2="41.5" y1="463.68" y2="463.68" stroke="#262626" stroke-width="0.7"/>
<line x1="39.50" x2="41.5" y1="460.13" y2="460.13" stroke="#262626" stroke-width="0.7"/>
<line x1="39.50" x2="41.5" y1="457.05" y2="457.05" stroke="#262626" stroke-width="0.7"/>
<line x1="39.50" x2="41.5" y1="454.33" y2="454.33" stroke="#262626" stroke-width="0.7"/>
<line x1="38.50" x2="41.5" y1="451.90" y2="451.90" stroke="#262626" stroke-width="0.9"/>
<line x1="39.50" x2="41.5" y1="435.92" y2="435.92" stroke="#262626" stroke-width="0.7"/>
<line x1="39.50" x2="41.5" y1="426.56" y2="426.56" stroke="#262626" stroke-width="0.7"/>
<line x1="39.50" x2="41.5" y1="419.93" y2="419.93" stroke="#262626" stroke-width="0.7"/>
<line x1="39.50" x2="41.5" y1="414.78" y2="414.78" stroke="#262626" stroke-width="0.7"/>
<line x1="39.50" x2="41.5" y1="410.58" y2="410.58" stroke="#262626" stroke-width="0.7"/>
<line x1="39.50" x2="41.5" y1="407.03" y2="407.03" stroke="#262626" stroke-width="0.7"/>
<line x1="39.50" x2="41.5" y1="403.95" y2="403.95" stroke="#262626" stroke-width="0.7"/>
<line x1="39.50" x2="41.5" y1="401.23" y2="401.23" stroke="#262626" stroke-width="0.7"/>
<line x1="38.50" x2="41.5" y1="398.80" y2="398.80" stroke="#262626" stroke-width="0.9"/>
<line x1="39.50" x2="41.5" y1="382.82" y2="382.82" stroke="#262626" stroke-width="0.7"/>
<line x1="39.50" x2="41.5" y1="373.46" y2="373.46" stroke="#262626" stroke-width="0.7"/>
<line x1="39.50" x2="41.5" y1="366.83" y2="366.83" stroke="#262626" stroke-width="0.7"/>
<line x1="39.50" x2="41.5" y1="361.68" y2="361.68" stroke="#262626" stroke-width="0.7"/>
<line x1="39.50" x2="41.5" y1="357.48" y2="357.48" stroke="#262626" stroke-width="0.7"/>
<line x1="39.50" x2="41.5" y1="353.93" y2="353.93" stroke="#262626" stroke-width="0.7"/>
<line x1="39.50" x2="41.5" y1="350.85" y2="350.85" stroke="#262626" stroke-width="0.7"/>
<line x1="39.50" x2="41.5" y1="348.13" y2="348.13" stroke="#262626" stroke-width="0.7"/>
<line x1="38.50" x2="41.5" y1="345.70" y2="345.70" stroke="#262626" stroke-width="0.9"/>
<line x1="39.50" x2="41.5" y1="329.72" y2="329.72" stroke="#262626" stroke-width="0.7"/>
<line x1="39.50" x2="41.5" y1="320.36" y2="320.36" stroke="#262626" stroke-width="0.7"/>
<line x1="39.50" x2="41.5" y1="313.73" y2="313.73" stroke="#262626" stroke-width="0.7"/>
<line x1="39.50" x2="41.5" y1="308.58" y2="308.58" stroke="#262626" stroke-width="0.7"/>
<line x1="41.50" x2="41.50" y1="551.3" y2="554.3" stroke="#262626" stroke-width="0.9"/>
<text x="41.50" y="564.00" font-family="Liberation Serif" font-size="9" font-weight="normal" text-anchor="middle" fill="#1a1a1a" textLength="11.2" lengthAdjust="spacingAndGlyphs">0.0</text>
<line x1="80.46" x2="80.46" y1="551.3" y2="554.3" stroke="#262626" stroke-width="0.9"/>
<text x="80.46" y="564.00" font-family="Liberation Serif" font-size="9" font-weight="normal" text-anchor="middle" fill="#1a1a1a" textLength="11.2" lengthAdjust="spacingAndGlyphs">0.2</text>
<line x1="119.42" x2="119.42" y1="551.3" y2="554.3" stroke="#262626" stroke-width="0.9"/>
<text x="119.42" y="564.00" font-family="Liberation Serif" font-size="9" font-weight="normal" text-anchor="middle" fill="#1a1a1a" textLength="11.2" lengthAdjust="spacingAndGlyphs">0.4</text>
<line x1="158.38" x2="158.38" y1="551.3" y2="554.3" stroke="#262626" stroke-width="0.9"/>
<text x="158.38" y="564.00" font-family="Liberation Serif" font-size="9" font-weight="normal" text-anchor="middle" fill="#1a1a1a" textLength="11.2" lengthAdjust="spacingAndGlyphs">0.6</text>
<line x1="197.34" x2="197.34" y1="551.3" y2="554.3" stroke="#262626" stroke-width="0.9"/>
<text x="197.34" y="564.00" font-family="Liberation Serif" font-size="9" font-weight="normal" text-anchor="middle" fill="#1a1a1a" textLength="11.2" lengthAdjust="spacingAndGlyphs">0.8</text>
<line x1="236.30" x2="236.30" y1="551.3" y2="554.3" stroke="#262626" stroke-width="0.9"/>
<text x="236.30" y="564.00" font-family="Liberation Serif" font-size="9" font-weight="normal" text-anchor="middle" fill="#1a1a1a" textLength="11.2" lengthAdjust="spacingAndGlyphs">1.0</text>
<text x="35.30" y="504.40" font-family="Liberation Serif" font-size="6.2" text-anchor="end" fill="#1a1a1a">1</text>
<line x1="27.90" x2="32.10" y1="503.30" y2="503.30" stroke="#1a1a1a" stroke-width="0.6"/>
<text x="27.30" y="508.40" font-family="Liberation Serif" font-size="9" text-anchor="end" fill="#1a1a1a" textLength="7.8" lengthAdjust="spacingAndGlyphs">10</text>
<text x="35.30" y="451.20" font-family="Liberation Serif" font-size="6.2" text-anchor="end" fill="#1a1a1a">0</text>
<text x="32.20" y="455.30" font-family="Liberation Serif" font-size="9" text-anchor="end" fill="#1a1a1a" textLength="7.8" lengthAdjust="spacingAndGlyphs">10</text>
<text x="35.30" y="398.10" font-family="Liberation Serif" font-size="6.2" text-anchor="end" fill="#1a1a1a">1</text>
<text x="32.20" y="402.20" font-family="Liberation Serif" font-size="9" text-anchor="end" fill="#1a1a1a" textLength="7.8" lengthAdjust="spacingAndGlyphs">10</text>
<text x="35.30" y="345.00" font-family="Liberation Serif" font-size="6.2" text-anchor="end" fill="#1a1a1a">2</text>
<text x="32.20" y="349.10" font-family="Liberation Serif" font-size="9" text-anchor="end" fill="#1a1a1a" textLength="7.8" lengthAdjust="spacingAndGlyphs">10</text>
<text x="138.90" y="575.70" font-family="Liberation Serif" font-size="10" font-weight="normal" text-anchor="middle" fill="#1a1a1a" textLength="64.9" lengthAdjust="spacingAndGlyphs">Solid fraction Φ</text>
<text transform="translate(12.8,429.80) rotate(-90)" x="0" y="0" font-family="Liberation Serif" font-size="10" text-anchor="middle" fill="#1a1a1a" textLength="108.5" lengthAdjust="spacingAndGlyphs">Reference stress <tspan font-style="italic">σ</tspan><tspan font-size="7" dy="2">0</tspan><tspan dy="-2"> (MPa)</tspan></text>
<g clip-path="url(#ca)"><circle cx="230.2" cy="15.2" r="2.0" fill="#000"/></g>
<text x="225.60" y="22.70" font-family="Liberation Serif" font-size="11.5" font-weight="normal" text-anchor="end" fill="#1a1a1a" textLength="14.2" lengthAdjust="spacingAndGlyphs" stroke="#1a1a1a" stroke-width="0.35">Ice</text>
<g clip-path="url(#cb)"><circle cx="489.5" cy="20.0" r="2.0" fill="#000"/></g>
<text x="485.00" y="30.70" font-family="Liberation Serif" font-size="11.5" font-weight="normal" text-anchor="end" fill="#1a1a1a" textLength="14.5" lengthAdjust="spacingAndGlyphs" stroke="#1a1a1a" stroke-width="0.35">Ice</text>
<g clip-path="url(#cc)"><circle cx="236.3" cy="323.5" r="2.0" fill="#000"/></g>
<text x="231.60" y="336.00" font-family="Liberation Serif" font-size="11.5" font-weight="normal" text-anchor="end" fill="#1a1a1a" textLength="14.0" lengthAdjust="spacingAndGlyphs" stroke="#1a1a1a" stroke-width="0.35">Ice</text>
<text x="107.80" y="290.30" font-family="Liberation Serif" font-size="10" font-weight="bold" text-anchor="start" fill="#1a1a1a" textLength="12.6" lengthAdjust="spacingAndGlyphs">(a)</text>
<text x="124.60" y="290.30" font-family="Liberation Serif" font-size="10" font-weight="normal" text-anchor="start" fill="#1a1a1a" textLength="16.2" lengthAdjust="spacingAndGlyphs">n=1</text>
<text x="360.90" y="291.30" font-family="Liberation Serif" font-size="10" font-weight="bold" text-anchor="start" fill="#1a1a1a" textLength="13.0" lengthAdjust="spacingAndGlyphs">(b)</text>
<text x="377.00" y="291.30" font-family="Liberation Serif" font-size="10" font-weight="normal" text-anchor="start" fill="#1a1a1a" textLength="17.6" lengthAdjust="spacingAndGlyphs">n=3</text>
<text x="107.80" y="592.40" font-family="Liberation Sans" font-size="10" font-weight="bold" text-anchor="start" fill="#1a1a1a" textLength="12.0" lengthAdjust="spacingAndGlyphs">(c)</text>
<text x="123.40" y="592.40" font-family="Liberation Sans" font-size="10" font-weight="normal" text-anchor="start" fill="#1a1a1a" textLength="30.6" lengthAdjust="spacingAndGlyphs">n=2.15</text>
<rect x="295.3" y="333.1" width="153.2" height="217.2" rx="2.8" ry="2.8" fill="#fff" stroke="#cfcfcf" stroke-width="1.3"/>
<text x="306.60" y="349.90" font-family="Liberation Serif" font-size="9" font-weight="normal" text-anchor="start" fill="#1a1a1a" textLength="26" lengthAdjust="spacingAndGlyphs">Models</text>
<line x1="312.3" x2="328.3" y1="360" y2="360" stroke="#000" stroke-width="1.25" stroke-dasharray="4.6 2.0"/>
<text x="333.60" y="361.60" font-family="Liberation Serif" font-size="9" font-weight="normal" text-anchor="start" fill="#1a1a1a" textLength="45.8" lengthAdjust="spacingAndGlyphs">Crocus BR92</text>
<line x1="312.3" x2="328.3" y1="371" y2="371" stroke="#000" stroke-width="1.25" stroke-dasharray="1.25 2.06"/>
<text x="333.60" y="372.60" font-family="Liberation Serif" font-size="9" font-weight="normal" text-anchor="start" fill="#1a1a1a" textLength="40.5" lengthAdjust="spacingAndGlyphs">Crocus T11</text>
<line x1="312.3" x2="328.3" y1="382" y2="382" stroke="#000" stroke-width="1.25" stroke-dasharray="8 2 1.25 2"/>
<text x="333.30" y="383.60" font-family="Liberation Serif" font-size="9" font-weight="normal" text-anchor="start" fill="#1a1a1a" textLength="49.3" lengthAdjust="spacingAndGlyphs">Snowpack K75</text>
<text x="305.30" y="399.70" font-family="Liberation Serif" font-size="9" font-weight="normal" text-anchor="start" fill="#1a1a1a" textLength="99.5" lengthAdjust="spacingAndGlyphs">Strain-rate controlled tests</text>
<text x="333.80" y="410.50" font-family="Liberation Serif" font-size="9" font-weight="normal" text-anchor="start" fill="#1a1a1a" textLength="76" lengthAdjust="spacingAndGlyphs">Scappoza et al., 2003</text>
<circle cx="349.80" cy="418.00" r="1.90" fill="#bdb46a"/>
<text x="355.00" y="419.80" font-family="Liberation Sans" font-size="7" font-weight="normal" text-anchor="start" fill="#1a1a1a" textLength="26.3" lengthAdjust="spacingAndGlyphs">-18.5 °C</text>
<circle cx="349.80" cy="428.50" r="1.90" fill="#cc8a0c"/>
<text x="355.00" y="430.50" font-family="Liberation Sans" font-size="7" font-weight="normal" text-anchor="start" fill="#1a1a1a" textLength="21" lengthAdjust="spacingAndGlyphs">-11 °C</text>
<circle cx="349.60" cy="439.00" r="1.90" fill="#960808"/>
<text x="355.00" y="441.00" font-family="Liberation Sans" font-size="7" font-weight="normal" text-anchor="start" fill="#1a1a1a" textLength="16.5" lengthAdjust="spacingAndGlyphs">-2 °C</text>
<circle cx="320.60" cy="448.60" r="1.90" fill="#5c5c5c"/>
<text x="334.50" y="450.50" font-family="Liberation Serif" font-size="9" font-weight="normal" text-anchor="start" fill="#1a1a1a" textLength="71.5" lengthAdjust="spacingAndGlyphs">Bernard et al., 2023</text>
<text x="304.50" y="465.20" font-family="Liberation Serif" font-size="9" font-weight="normal" text-anchor="start" fill="#1a1a1a" textLength="77.2" lengthAdjust="spacingAndGlyphs">Load controlled tests</text>
<path d="M321.40,471.92 L322.13,472.99 L323.38,473.36 L322.59,474.39 L322.62,475.68 L321.40,475.25 L320.18,475.68 L320.21,474.39 L319.42,473.36 L320.67,472.99Z" fill="#d95c5c"/>
<text x="335.10" y="475.80" font-family="Liberation Serif" font-size="9" font-weight="normal" text-anchor="start" fill="#1a1a1a" textLength="64" lengthAdjust="spacingAndGlyphs">Theile et al., 2011</text>
<path d="M321.40,482.12 L322.13,483.19 L323.38,483.56 L322.59,484.59 L322.62,485.88 L321.40,485.45 L320.18,485.88 L320.21,484.59 L319.42,483.56 L320.67,483.19Z" fill="#800080"/>
<text x="335.10" y="486.30" font-family="Liberation Serif" font-size="9" font-weight="normal" text-anchor="start" fill="#1a1a1a" textLength="71.5" lengthAdjust="spacingAndGlyphs">Bernard et al., 2024</text>
<text x="335.10" y="496.60" font-family="Liberation Serif" font-size="9" font-weight="normal" text-anchor="start" fill="#1a1a1a" textLength="67" lengthAdjust="spacingAndGlyphs">Schleef et al., 2014</text>
<path d="M349.60,502.72 L350.33,503.79 L351.58,504.16 L350.79,505.19 L350.82,506.48 L349.60,506.05 L348.38,506.48 L348.41,505.19 L347.62,504.16 L348.87,503.79Z" fill="#4682b4"/>
<text x="356.20" y="507.70" font-family="Liberation Serif" font-size="9" font-weight="normal" text-anchor="start" fill="#1a1a1a" textLength="25" lengthAdjust="spacingAndGlyphs">133 Pa</text>
<path d="M349.60,513.02 L350.33,514.09 L351.58,514.46 L350.79,515.49 L350.82,516.78 L349.60,516.35 L348.38,516.78 L348.41,515.49 L347.62,514.46 L348.87,514.09Z" fill="#0000ff"/>
<text x="356.20" y="518.30" font-family="Liberation Serif" font-size="9" font-weight="normal" text-anchor="start" fill="#1a1a1a" textLength="25" lengthAdjust="spacingAndGlyphs">215 Pa</text>
<path d="M349.60,523.42 L350.33,524.49 L351.58,524.86 L350.79,525.89 L350.82,527.18 L349.60,526.75 L348.38,527.18 L348.41,525.89 L347.62,524.86 L348.87,524.49Z" fill="#000080"/>
<text x="356.20" y="528.50" font-family="Liberation Serif" font-size="9" font-weight="normal" text-anchor="start" fill="#1a1a1a" textLength="25" lengthAdjust="spacingAndGlyphs">318 Pa</text>
<line x1="314" x2="330" y1="541.5" y2="541.5" stroke="#555" stroke-width="1.1" stroke-dasharray="1.1 1.75"/>
<text x="336.50" y="544.00" font-family="Liberation Serif" font-size="9" font-weight="normal" text-anchor="start" fill="#1a1a1a" textLength="103.6" lengthAdjust="spacingAndGlyphs">Fit experimental data (Eq. 11)</text>
</svg>
</body></html>
